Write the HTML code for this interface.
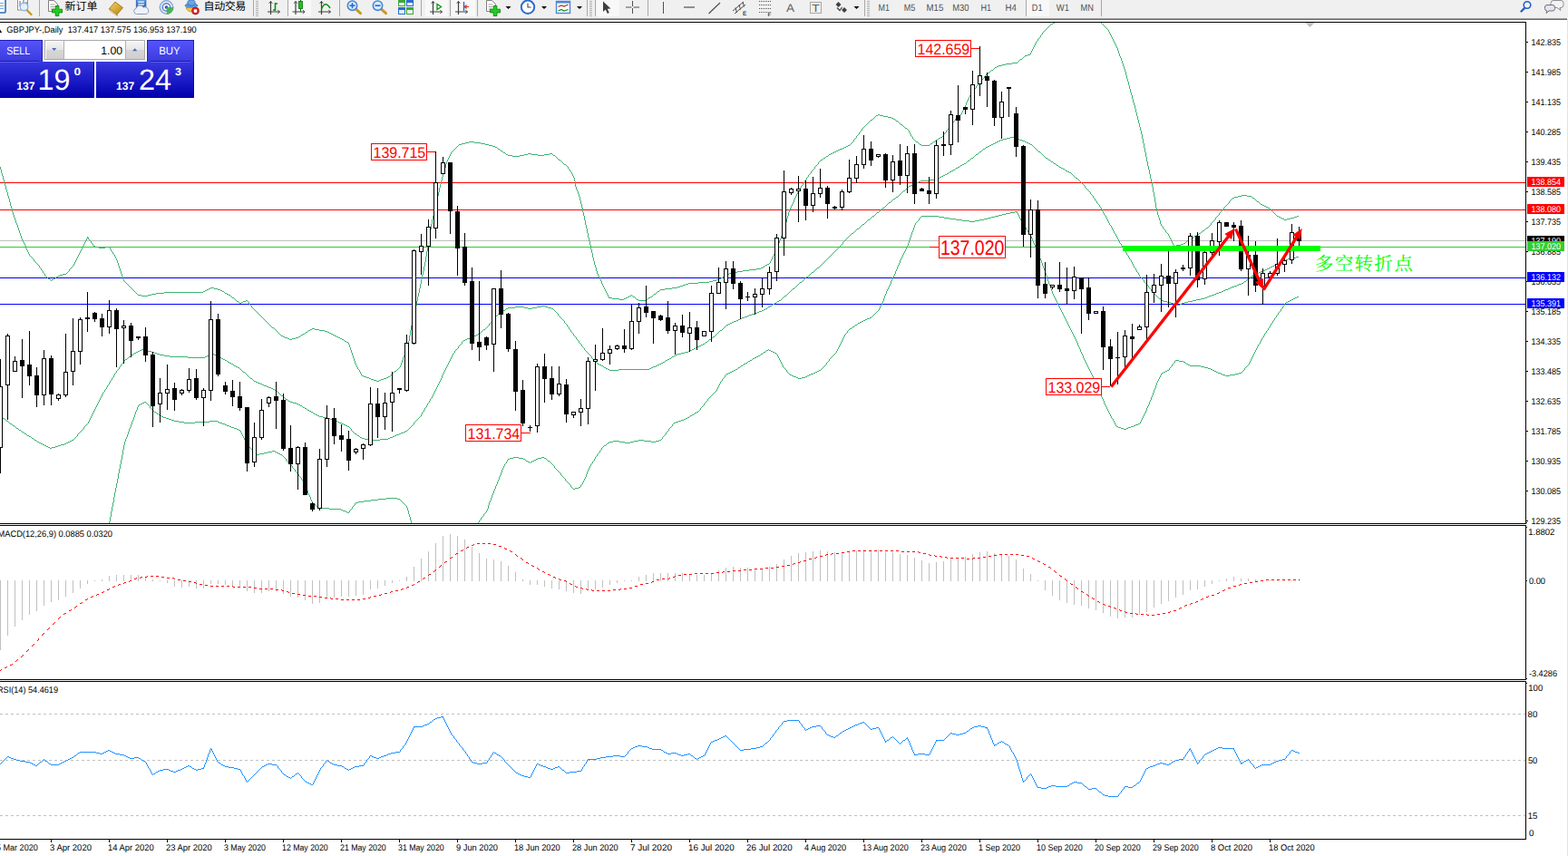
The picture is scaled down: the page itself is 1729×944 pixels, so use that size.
<!DOCTYPE html>
<html><head><meta charset="utf-8"><title>GBPJPY Daily</title>
<style>
html,body{margin:0;padding:0;background:#fff;}
body{width:1729px;height:944px;position:relative;overflow:hidden;font-family:"Liberation Sans", sans-serif;}
#tb{position:absolute;left:0;top:0;width:1729px;height:20px;background:#f0f0f0;}
#tb1{position:absolute;left:0;top:20px;width:1728px;height:1px;background:#a0a0a0;}
#tb2{position:absolute;left:0;top:21px;width:1728px;height:1px;background:#696969;}
#rb{position:absolute;left:1728px;top:21px;width:1px;height:923px;background:#e3e3e3;}
.tf{position:absolute;top:2px;font-size:11px;color:#505050;line-height:13px;}
</style></head><body>
<svg width="1729" height="944" viewBox="0 0 1729 944" style="position:absolute;left:0;top:0;text-rendering:geometricPrecision" font-family='"Liberation Sans", sans-serif'>
<defs>
<clipPath id="cm"><rect x="0" y="25" width="1682" height="552"/></clipPath>
<clipPath id="cd"><rect x="0" y="580" width="1682" height="169"/></clipPath>
<clipPath id="cr"><rect x="0" y="752" width="1682" height="173"/></clipPath>
</defs>
<g shape-rendering="crispEdges" fill="#000">
<rect x="0" y="24" width="1683" height="1"/>
<rect x="1682" y="24" width="1" height="902"/>
<rect x="0" y="577" width="1683" height="1"/>
<rect x="0" y="579" width="1683" height="1"/>
<rect x="0" y="749" width="1683" height="1"/>
<rect x="0" y="751" width="1683" height="1"/>
<rect x="0" y="925" width="1683" height="1"/>
<rect x="1683" y="576" width="1" height="1"/><rect x="1683" y="581" width="1" height="1"/><rect x="1683" y="748" width="1" height="1"/><rect x="1683" y="753" width="1" height="1"/>
<rect x="1682" y="578" width="1" height="1" fill="#fff"/><rect x="1682" y="750" width="1" height="1" fill="#fff"/>
</g>
<g clip-path="url(#cm)">
<g shape-rendering="crispEdges">
<rect x="0" y="201" width="1682" height="1" fill="#ff0000"/>
<rect x="0" y="231" width="1682" height="1" fill="#ff0000"/>
<rect x="0" y="265" width="1682" height="1" fill="#c0c0c0"/>
<rect x="0" y="272" width="1682" height="1" fill="#32cd32"/>
<rect x="0" y="306" width="1682" height="1" fill="#0000ff"/>
<rect x="0" y="335" width="1682" height="1" fill="#0000ff"/>
</g>
<path shape-rendering="crispEdges" fill="#3cb371" d="M0 184h1v3h-1z M1 187h1v4h-1z M2 191h1v3h-1z M3 194h1v4h-1z M4 198h1v4h-1z M5 202h1v3h-1z M6 205h1v4h-1z M7 209h1v3h-1z M8 212h1v4h-1z M9 216h1v3h-1z M10 219h1v4h-1z M11 223h1v4h-1z M12 227h1v3h-1z M13 230h1v4h-1z M14 234h1v3h-1z M15 237h1v3h-1z M16 240h1v3h-1z M17 243h1v3h-1z M18 246h1v2h-1z M19 248h1v3h-1z M20 251h1v3h-1z M21 254h1v3h-1z M22 257h1v3h-1z M23 260h1v3h-1z M24 263h1v2h-1z M25 265h1v2h-1z M26 267h1v2h-1z M27 269h1v2h-1z M28 271h1v3h-1z M29 274h1v2h-1z M30 276h1v2h-1z M31 278h1v2h-1z M32 280h1v2h-1z M37 286h1v2h-1z M43 293h1v2h-1z M45 296h1v2h-1z M47 299h1v2h-1z M49 302h1v2h-1z M76 297h1v2h-1z M81 291h1v2h-1z M82 289h1v2h-1z M83 287h1v2h-1z M84 285h1v2h-1z M85 283h1v2h-1z M86 281h1v2h-1z M87 279h1v2h-1z M88 277h1v2h-1z M89 275h1v2h-1z M90 273h1v2h-1z M91 271h1v2h-1z M92 269h1v2h-1z M93 267h1v2h-1z M94 265h1v2h-1z M95 263h1v2h-1z M96 261h1v2h-1z M97 262h1v2h-1z M100 266h1v2h-1z M102 269h1v2h-1z M121 273h1v2h-1z M122 275h1v2h-1z M124 278h1v2h-1z M126 281h1v2h-1z M127 283h1v2h-1z M128 285h1v2h-1z M129 287h1v3h-1z M130 290h1v3h-1z M131 293h1v3h-1z M132 296h1v3h-1z M133 299h1v3h-1z M134 302h1v3h-1z M135 305h1v3h-1z M136 308h1v2h-1z M274 333h1v2h-1z M277 337h1v2h-1z M384 378h1v2h-1z M385 380h1v3h-1z M386 383h1v3h-1z M387 386h1v3h-1z M388 389h1v3h-1z M389 392h1v3h-1z M390 395h1v3h-1z M391 398h1v3h-1z M392 401h1v2h-1z M393 403h1v2h-1z M394 405h1v2h-1z M396 408h1v2h-1z M397 410h1v2h-1z M398 412h1v2h-1z M441 403h1v2h-1z M442 400h1v3h-1z M443 397h1v3h-1z M444 394h1v3h-1z M445 392h1v2h-1z M446 389h1v3h-1z M447 386h1v3h-1z M448 383h1v3h-1z M449 380h1v3h-1z M450 376h1v4h-1z M451 370h1v6h-1z M452 364h1v6h-1z M453 359h1v5h-1z M454 355h1v4h-1z M455 350h1v5h-1z M456 346h1v4h-1z M457 341h1v5h-1z M458 337h1v4h-1z M459 332h1v5h-1z M460 327h1v5h-1z M461 323h1v4h-1z M462 318h1v5h-1z M463 313h1v5h-1z M464 308h1v5h-1z M465 303h1v5h-1z M466 299h1v4h-1z M467 294h1v5h-1z M468 289h1v5h-1z M469 283h1v6h-1z M470 277h1v6h-1z M471 271h1v6h-1z M472 265h1v6h-1z M473 259h1v6h-1z M474 253h1v6h-1z M475 247h1v6h-1z M476 242h1v5h-1z M477 238h1v4h-1z M478 234h1v4h-1z M479 229h1v5h-1z M480 225h1v4h-1z M481 221h1v4h-1z M482 216h1v5h-1z M483 212h1v4h-1z M484 207h1v5h-1z M485 203h1v4h-1z M486 199h1v4h-1z M487 195h1v4h-1z M488 191h1v4h-1z M489 188h1v3h-1z M490 185h1v3h-1z M491 181h1v4h-1z M492 178h1v3h-1z M493 176h1v2h-1z M494 174h1v2h-1z M495 172h1v2h-1z M496 170h1v2h-1z M497 168h1v2h-1z M626 184h1v2h-1z M628 187h1v2h-1z M630 190h1v2h-1z M631 192h1v2h-1z M632 194h1v2h-1z M633 196h1v4h-1z M634 200h1v6h-1z M635 206h1v3h-1z M636 209h1v2h-1z M637 211h1v3h-1z M638 214h1v3h-1z M639 217h1v4h-1z M640 221h1v4h-1z M641 225h1v4h-1z M642 229h1v5h-1z M643 234h1v4h-1z M644 238h1v5h-1z M645 243h1v5h-1z M646 248h1v4h-1z M647 252h1v5h-1z M648 257h1v5h-1z M649 262h1v4h-1z M650 266h1v4h-1z M651 270h1v5h-1z M652 275h1v4h-1z M653 279h1v5h-1z M654 284h1v4h-1z M655 288h1v4h-1z M656 292h1v3h-1z M657 295h1v4h-1z M658 299h1v3h-1z M659 302h1v2h-1z M660 304h1v2h-1z M661 306h1v2h-1z M662 308h1v2h-1z M663 310h1v3h-1z M664 313h1v2h-1z M665 315h1v2h-1z M666 317h1v2h-1z M667 319h1v2h-1z M668 321h1v2h-1z M669 323h1v2h-1z M670 325h1v2h-1z M671 327h1v2h-1z M849 288h1v2h-1z M850 286h1v2h-1z M851 284h1v2h-1z M852 282h1v2h-1z M853 280h1v2h-1z M854 278h1v2h-1z M855 275h1v3h-1z M856 273h1v2h-1z M857 270h1v3h-1z M858 268h1v2h-1z M859 265h1v3h-1z M860 263h1v2h-1z M861 260h1v3h-1z M862 258h1v2h-1z M863 255h1v3h-1z M864 251h1v4h-1z M865 248h1v3h-1z M866 245h1v3h-1z M867 241h1v4h-1z M868 238h1v3h-1z M869 234h1v4h-1z M870 231h1v3h-1z M871 229h1v2h-1z M872 227h1v2h-1z M873 225h1v2h-1z M874 223h1v2h-1z M875 220h1v3h-1z M876 218h1v2h-1z M877 216h1v2h-1z M878 214h1v2h-1z M879 212h1v2h-1z M880 210h1v2h-1z M881 208h1v2h-1z M883 205h1v2h-1z M885 202h1v2h-1z M887 199h1v2h-1z M889 196h1v2h-1z M891 193h1v2h-1z M894 189h1v2h-1z M898 184h1v2h-1z M902 179h1v2h-1z M941 154h1v2h-1z M944 150h1v2h-1z M947 146h1v2h-1z M950 142h1v2h-1z M1002 144h1v2h-1z M1003 146h1v2h-1z M1004 148h1v2h-1z M1006 151h1v2h-1z M1040 148h1v2h-1z M1043 144h1v2h-1z M1046 140h1v2h-1z M1049 136h1v2h-1z M1053 131h1v2h-1z M1060 124h1v2h-1z M1061 122h1v2h-1z M1062 120h1v2h-1z M1063 118h1v2h-1z M1064 116h1v2h-1z M1065 113h1v3h-1z M1066 111h1v2h-1z M1067 109h1v2h-1z M1068 107h1v2h-1z M1069 105h1v2h-1z M1070 103h1v2h-1z M1072 100h1v2h-1z M1076 95h1v2h-1z M1081 89h1v2h-1z M1085 84h1v2h-1z M1136 58h1v2h-1z M1137 56h1v2h-1z M1138 54h1v2h-1z M1139 52h1v2h-1z M1140 50h1v2h-1z M1141 48h1v2h-1z M1142 46h1v2h-1z M1144 43h1v2h-1z M1147 39h1v2h-1z M1149 36h1v2h-1z M1222 33h1v2h-1z M1223 35h1v2h-1z M1224 37h1v2h-1z M1225 39h1v2h-1z M1226 41h1v2h-1z M1227 43h1v2h-1z M1228 45h1v2h-1z M1229 47h1v2h-1z M1230 49h1v2h-1z M1231 51h1v2h-1z M1232 53h1v3h-1z M1233 56h1v3h-1z M1234 59h1v3h-1z M1235 62h1v2h-1z M1236 64h1v3h-1z M1237 67h1v3h-1z M1238 70h1v3h-1z M1239 73h1v3h-1z M1240 76h1v3h-1z M1241 79h1v4h-1z M1242 83h1v4h-1z M1243 87h1v3h-1z M1244 90h1v4h-1z M1245 94h1v4h-1z M1246 98h1v4h-1z M1247 102h1v3h-1z M1248 105h1v4h-1z M1249 109h1v4h-1z M1250 113h1v3h-1z M1251 116h1v4h-1z M1252 120h1v4h-1z M1253 124h1v4h-1z M1254 128h1v4h-1z M1255 132h1v4h-1z M1256 136h1v4h-1z M1257 140h1v4h-1z M1258 144h1v4h-1z M1259 148h1v5h-1z M1260 153h1v5h-1z M1261 158h1v5h-1z M1262 163h1v5h-1z M1263 168h1v5h-1z M1264 173h1v5h-1z M1265 178h1v5h-1z M1266 183h1v4h-1z M1267 187h1v5h-1z M1268 192h1v5h-1z M1269 197h1v4h-1z M1270 201h1v5h-1z M1271 206h1v6h-1z M1272 212h1v5h-1z M1273 217h1v6h-1z M1274 223h1v6h-1z M1275 229h1v4h-1z M1276 233h1v4h-1z M1277 237h1v3h-1z M1278 240h1v3h-1z M1279 243h1v4h-1z M1280 247h1v2h-1z M1282 250h1v2h-1z M1285 254h1v2h-1z M1288 258h1v2h-1z M1289 260h1v2h-1z M1290 262h1v2h-1z M1291 264h1v2h-1z M1292 266h1v2h-1z M1293 268h1v2h-1z M1294 270h1v2h-1z M1335 246h1v2h-1z M1340 240h1v2h-1z M1344 235h1v2h-1z M1349 229h1v2h-1z M1355 222h1v2h-1z M1161 25h2v1h-2z M1214 25h1v1h-1z M1159 26h2v1h-2z M1215 26h1v1h-1z M1158 27h1v1h-1z M1216 27h1v1h-1z M1157 28h1v1h-1z M1217 28h1v1h-1z M1156 29h1v1h-1z M1218 29h1v1h-1z M1155 30h1v1h-1z M1219 30h1v1h-1z M1154 31h1v1h-1z M1220 31h1v1h-1z M1153 32h1v1h-1z M1221 32h1v1h-1z M1152 33h1v1h-1z M1151 34h1v1h-1z M1150 35h1v1h-1z M1148 38h1v1h-1z M1146 41h1v1h-1z M1145 42h1v1h-1z M1143 45h1v1h-1z M1133 60h3v1h-3z M1130 61h3v1h-3z M1129 62h1v1h-1z M1128 63h1v1h-1z M1127 64h1v1h-1z M1125 65h2v1h-2z M1124 66h1v1h-1z M1123 67h1v1h-1z M1122 68h1v1h-1z M1116 69h6v1h-6z M1109 70h7v1h-7z M1105 71h4v1h-4z M1101 72h4v1h-4z M1099 73h2v1h-2z M1097 74h2v1h-2z M1096 75h1v1h-1z M1095 76h1v1h-1z M1093 77h2v1h-2z M1092 78h1v1h-1z M1091 79h1v1h-1z M1089 80h2v1h-2z M1088 81h1v1h-1z M1087 82h1v1h-1z M1086 83h1v1h-1z M1084 86h1v1h-1z M1083 87h1v1h-1z M1082 88h1v1h-1z M1080 91h1v1h-1z M1079 92h1v1h-1z M1078 93h1v1h-1z M1077 94h1v1h-1z M1075 97h1v1h-1z M1074 98h1v1h-1z M1073 99h1v1h-1z M1071 102h1v1h-1z M968 126h2v1h-2z M1059 126h1v1h-1z M966 127h2v1h-2z M970 127h4v1h-4z M1057 127h2v1h-2z M965 128h1v1h-1z M974 128h5v1h-5z M1056 128h1v1h-1z M964 129h1v1h-1z M979 129h4v1h-4z M1055 129h1v1h-1z M963 130h1v1h-1z M983 130h2v1h-2z M1054 130h1v1h-1z M962 131h1v1h-1z M985 131h2v1h-2z M960 132h2v1h-2z M987 132h1v1h-1z M959 133h1v1h-1z M988 133h2v1h-2z M1052 133h1v1h-1z M958 134h1v1h-1z M990 134h1v1h-1z M1051 134h1v1h-1z M957 135h1v1h-1z M991 135h1v1h-1z M1050 135h1v1h-1z M956 136h1v1h-1z M992 136h1v1h-1z M955 137h1v1h-1z M993 137h2v1h-2z M954 138h1v1h-1z M995 138h1v1h-1z M1048 138h1v1h-1z M953 139h1v1h-1z M996 139h1v1h-1z M1047 139h1v1h-1z M952 140h1v1h-1z M997 140h1v1h-1z M951 141h1v1h-1z M998 141h2v1h-2z M1000 142h1v1h-1z M1045 142h1v1h-1z M1001 143h1v1h-1z M1044 143h1v1h-1z M949 144h1v1h-1z M948 145h1v1h-1z M1042 146h1v1h-1z M1041 147h1v1h-1z M946 148h1v1h-1z M945 149h1v1h-1z M1005 150h1v1h-1z M1039 150h1v1h-1z M1037 151h2v1h-2z M943 152h1v1h-1z M1035 152h2v1h-2z M942 153h1v1h-1z M1007 153h1v1h-1z M1034 153h1v1h-1z M1008 154h1v1h-1z M1032 154h2v1h-2z M1009 155h1v1h-1z M1031 155h1v1h-1z M517 156h6v1h-6z M940 156h1v1h-1z M1010 156h2v1h-2z M1029 156h2v1h-2z M513 157h4v1h-4z M523 157h7v1h-7z M939 157h1v1h-1z M1012 157h1v1h-1z M1028 157h1v1h-1z M509 158h4v1h-4z M530 158h5v1h-5z M938 158h1v1h-1z M1013 158h1v1h-1z M1026 158h2v1h-2z M506 159h3v1h-3z M535 159h4v1h-4z M937 159h1v1h-1z M1014 159h2v1h-2z M1025 159h1v1h-1z M505 160h1v1h-1z M539 160h4v1h-4z M935 160h2v1h-2z M1016 160h9v1h-9z M504 161h1v1h-1z M543 161h3v1h-3z M933 161h2v1h-2z M503 162h1v1h-1z M546 162h2v1h-2z M931 162h2v1h-2z M502 163h1v1h-1z M548 163h1v1h-1z M929 163h2v1h-2z M501 164h1v1h-1z M549 164h2v1h-2z M926 164h3v1h-3z M500 165h1v1h-1z M551 165h1v1h-1z M924 165h2v1h-2z M499 166h1v1h-1z M552 166h2v1h-2z M922 166h2v1h-2z M498 167h1v1h-1z M554 167h1v1h-1z M920 167h2v1h-2z M555 168h2v1h-2z M918 168h2v1h-2z M557 169h1v1h-1z M582 169h4v1h-4z M606 169h3v1h-3z M916 169h2v1h-2z M558 170h2v1h-2z M578 170h4v1h-4z M586 170h7v1h-7z M600 170h6v1h-6z M609 170h1v1h-1z M914 170h2v1h-2z M560 171h5v1h-5z M573 171h5v1h-5z M593 171h7v1h-7z M610 171h2v1h-2z M913 171h1v1h-1z M565 172h8v1h-8z M612 172h1v1h-1z M911 172h2v1h-2z M613 173h1v1h-1z M910 173h1v1h-1z M614 174h1v1h-1z M908 174h2v1h-2z M615 175h1v1h-1z M907 175h1v1h-1z M616 176h2v1h-2z M905 176h2v1h-2z M618 177h1v1h-1z M904 177h1v1h-1z M619 178h1v1h-1z M903 178h1v1h-1z M620 179h1v1h-1z M621 180h1v1h-1z M622 181h2v1h-2z M901 181h1v1h-1z M624 182h1v1h-1z M900 182h1v1h-1z M625 183h1v1h-1z M899 183h1v1h-1z M627 186h1v1h-1z M897 186h1v1h-1z M896 187h1v1h-1z M895 188h1v1h-1z M629 189h1v1h-1z M893 191h1v1h-1z M892 192h1v1h-1z M890 195h1v1h-1z M888 198h1v1h-1z M886 201h1v1h-1z M884 204h1v1h-1z M882 207h1v1h-1z M1369 215h6v1h-6z M1365 216h4v1h-4z M1375 216h5v1h-5z M1361 217h4v1h-4z M1380 217h1v1h-1z M1359 218h2v1h-2z M1381 218h2v1h-2z M1358 219h1v1h-1z M1383 219h1v1h-1z M1357 220h1v1h-1z M1384 220h1v1h-1z M1356 221h1v1h-1z M1385 221h1v1h-1z M1386 222h2v1h-2z M1388 223h1v1h-1z M1354 224h1v1h-1z M1389 224h1v1h-1z M1353 225h1v1h-1z M1390 225h2v1h-2z M1352 226h1v1h-1z M1392 226h2v1h-2z M1351 227h1v1h-1z M1394 227h2v1h-2z M1350 228h1v1h-1z M1396 228h2v1h-2z M1398 229h2v1h-2z M1400 230h1v1h-1z M1348 231h1v1h-1z M1401 231h1v1h-1z M1347 232h1v1h-1z M1402 232h1v1h-1z M1346 233h1v1h-1z M1403 233h1v1h-1z M1345 234h1v1h-1z M1404 234h1v1h-1z M1405 235h1v1h-1z M1406 236h1v1h-1z M1343 237h1v1h-1z M1407 237h1v1h-1z M1342 238h1v1h-1z M1408 238h2v1h-2z M1430 238h2v1h-2z M1341 239h1v1h-1z M1410 239h2v1h-2z M1427 239h3v1h-3z M1412 240h2v1h-2z M1423 240h4v1h-4z M1414 241h2v1h-2z M1419 241h4v1h-4z M1339 242h1v1h-1z M1416 242h3v1h-3z M1338 243h1v1h-1z M1337 244h1v1h-1z M1336 245h1v1h-1z M1334 248h1v1h-1z M1281 249h1v1h-1z M1333 249h1v1h-1z M1332 250h1v1h-1z M1330 251h2v1h-2z M1283 252h1v1h-1z M1329 252h1v1h-1z M1284 253h1v1h-1z M1328 253h1v1h-1z M1326 254h2v1h-2z M1325 255h1v1h-1z M1286 256h1v1h-1z M1324 256h1v1h-1z M1287 257h1v1h-1z M1322 257h2v1h-2z M1321 258h1v1h-1z M1319 259h2v1h-2z M1317 260h2v1h-2z M1316 261h1v1h-1z M1314 262h2v1h-2z M1312 263h2v1h-2z M98 264h1v1h-1z M1311 264h1v1h-1z M99 265h1v1h-1z M1309 265h2v1h-2z M1308 266h1v1h-1z M1307 267h1v1h-1z M101 268h1v1h-1z M1305 268h2v1h-2z M1302 269h3v1h-3z M1297 270h5v1h-5z M103 271h2v1h-2z M1295 271h2v1h-2z M105 272h4v1h-4z M116 272h5v1h-5z M109 273h7v1h-7z M123 277h1v1h-1z M125 280h1v1h-1z M33 282h1v1h-1z M34 283h1v1h-1z M35 284h1v1h-1z M36 285h1v1h-1z M38 288h1v1h-1z M39 289h1v1h-1z M40 290h1v1h-1z M848 290h1v1h-1z M41 291h1v1h-1z M846 291h2v1h-2z M42 292h1v1h-1z M844 292h2v1h-2z M80 293h1v1h-1z M843 293h1v1h-1z M79 294h1v1h-1z M841 294h2v1h-2z M44 295h1v1h-1z M78 295h1v1h-1z M839 295h2v1h-2z M77 296h1v1h-1z M834 296h5v1h-5z M826 297h8v1h-8z M46 298h1v1h-1z M819 298h7v1h-7z M75 299h1v1h-1z M813 299h6v1h-6z M74 300h1v1h-1z M807 300h6v1h-6z M48 301h1v1h-1z M73 301h1v1h-1z M804 301h3v1h-3z M69 302h4v1h-4z M802 302h2v1h-2z M66 303h3v1h-3z M800 303h2v1h-2z M50 304h1v1h-1z M64 304h2v1h-2z M798 304h2v1h-2z M51 305h1v1h-1z M62 305h2v1h-2z M797 305h1v1h-1z M52 306h1v1h-1z M61 306h1v1h-1z M795 306h2v1h-2z M53 307h2v1h-2z M59 307h2v1h-2z M793 307h2v1h-2z M55 308h1v1h-1z M57 308h2v1h-2z M790 308h3v1h-3z M56 309h1v1h-1z M786 309h4v1h-4z M137 310h1v1h-1z M782 310h4v1h-4z M138 311h1v1h-1z M770 311h12v1h-12z M139 312h1v1h-1z M759 312h11v1h-11z M140 313h1v1h-1z M756 313h3v1h-3z M141 314h1v1h-1z M753 314h3v1h-3z M142 315h1v1h-1z M750 315h3v1h-3z M143 316h1v1h-1z M747 316h3v1h-3z M144 317h1v1h-1z M232 317h4v1h-4z M741 317h6v1h-6z M145 318h1v1h-1z M230 318h2v1h-2z M236 318h4v1h-4z M733 318h8v1h-8z M146 319h1v1h-1z M228 319h2v1h-2z M240 319h3v1h-3z M728 319h5v1h-5z M147 320h1v1h-1z M226 320h2v1h-2z M243 320h2v1h-2z M727 320h1v1h-1z M148 321h1v1h-1z M224 321h2v1h-2z M245 321h2v1h-2z M725 321h2v1h-2z M149 322h1v1h-1z M181 322h43v1h-43z M247 322h1v1h-1z M724 322h1v1h-1z M150 323h1v1h-1z M172 323h9v1h-9z M248 323h2v1h-2z M723 323h1v1h-1z M151 324h1v1h-1z M167 324h5v1h-5z M250 324h2v1h-2z M721 324h2v1h-2z M152 325h4v1h-4z M163 325h4v1h-4z M252 325h2v1h-2z M696 325h1v1h-1z M720 325h1v1h-1z M156 326h7v1h-7z M254 326h1v1h-1z M694 326h2v1h-2z M697 326h1v1h-1z M719 326h1v1h-1z M255 327h1v1h-1z M692 327h2v1h-2z M698 327h2v1h-2z M717 327h2v1h-2z M256 328h2v1h-2z M672 328h3v1h-3z M690 328h2v1h-2z M700 328h1v1h-1z M715 328h2v1h-2z M258 329h1v1h-1z M675 329h8v1h-8z M688 329h2v1h-2z M701 329h1v1h-1z M714 329h1v1h-1z M259 330h1v1h-1z M683 330h5v1h-5z M702 330h2v1h-2z M712 330h2v1h-2z M260 331h1v1h-1z M271 331h2v1h-2z M704 331h8v1h-8z M261 332h2v1h-2z M268 332h3v1h-3z M273 332h1v1h-1z M263 333h1v1h-1z M266 333h2v1h-2z M264 334h2v1h-2z M275 335h1v1h-1z M276 336h1v1h-1z M278 339h1v1h-1z M279 340h1v1h-1z M280 341h1v1h-1z M281 342h1v1h-1z M282 343h1v1h-1z M283 344h1v1h-1z M284 345h1v1h-1z M285 346h1v1h-1z M286 347h1v1h-1z M287 348h1v1h-1z M288 349h1v1h-1z M289 350h1v1h-1z M290 351h1v1h-1z M291 352h1v1h-1z M292 353h1v1h-1z M293 354h1v1h-1z M294 355h1v1h-1z M295 356h1v1h-1z M296 357h1v1h-1z M297 358h1v1h-1z M298 359h1v1h-1z M299 360h1v1h-1z M300 361h2v1h-2z M302 362h1v1h-1z M344 362h3v1h-3z M303 363h1v1h-1z M342 363h2v1h-2z M347 363h5v1h-5z M304 364h1v1h-1z M340 364h2v1h-2z M352 364h6v1h-6z M305 365h1v1h-1z M339 365h1v1h-1z M358 365h3v1h-3z M306 366h1v1h-1z M337 366h2v1h-2z M361 366h2v1h-2z M307 367h1v1h-1z M336 367h1v1h-1z M363 367h2v1h-2z M308 368h1v1h-1z M334 368h2v1h-2z M365 368h2v1h-2z M309 369h1v1h-1z M332 369h2v1h-2z M367 369h2v1h-2z M310 370h2v1h-2z M331 370h1v1h-1z M369 370h2v1h-2z M312 371h2v1h-2z M329 371h2v1h-2z M371 371h2v1h-2z M314 372h3v1h-3z M326 372h3v1h-3z M373 372h2v1h-2z M317 373h2v1h-2z M322 373h4v1h-4z M375 373h2v1h-2z M319 374h3v1h-3z M377 374h2v1h-2z M379 375h1v1h-1z M380 376h2v1h-2z M382 377h2v1h-2z M440 405h1v1h-1z M439 406h1v1h-1z M395 407h1v1h-1z M438 407h1v1h-1z M437 408h1v1h-1z M435 409h2v1h-2z M434 410h1v1h-1z M433 411h1v1h-1z M432 412h1v1h-1z M431 413h1v1h-1z M399 414h2v1h-2z M430 414h1v1h-1z M401 415h3v1h-3z M428 415h2v1h-2z M404 416h3v1h-3z M426 416h2v1h-2z M407 417h2v1h-2z M423 417h3v1h-3z M409 418h3v1h-3z M420 418h3v1h-3z M412 419h3v1h-3z M418 419h2v1h-2z M415 420h3v1h-3z"/>
<path shape-rendering="crispEdges" fill="#3cb371" d="M85 479h1v2h-1z M92 471h1v2h-1z M97 465h1v2h-1z M98 463h1v2h-1z M99 461h1v2h-1z M100 459h1v2h-1z M101 457h1v2h-1z M102 455h1v2h-1z M103 453h1v2h-1z M104 451h1v2h-1z M105 449h1v2h-1z M106 447h1v2h-1z M107 445h1v2h-1z M108 443h1v2h-1z M109 441h1v2h-1z M110 439h1v2h-1z M111 437h1v2h-1z M112 435h1v2h-1z M113 433h1v2h-1z M115 430h1v2h-1z M117 427h1v2h-1z M118 425h1v2h-1z M120 422h1v2h-1z M121 420h1v2h-1z M123 417h1v2h-1z M125 414h1v2h-1z M126 412h1v2h-1z M128 409h1v2h-1z M131 405h1v2h-1z M133 402h1v2h-1z M136 398h1v2h-1z M387 473h1v2h-1z M456 466h1v2h-1z M464 457h1v2h-1z M465 455h1v2h-1z M467 452h1v2h-1z M468 450h1v2h-1z M470 447h1v2h-1z M471 445h1v2h-1z M473 442h1v2h-1z M474 440h1v2h-1z M476 437h1v2h-1z M477 435h1v2h-1z M478 433h1v2h-1z M479 431h1v2h-1z M480 429h1v2h-1z M481 427h1v2h-1z M482 425h1v2h-1z M483 423h1v2h-1z M484 421h1v2h-1z M485 419h1v2h-1z M486 417h1v2h-1z M487 414h1v3h-1z M488 412h1v2h-1z M489 410h1v2h-1z M490 408h1v2h-1z M491 406h1v2h-1z M492 404h1v2h-1z M493 402h1v2h-1z M494 400h1v2h-1z M495 398h1v2h-1z M496 396h1v2h-1z M497 394h1v2h-1z M498 392h1v2h-1z M499 390h1v2h-1z M501 387h1v2h-1z M505 382h1v2h-1z M509 377h1v2h-1z M539 357h1v2h-1z M545 350h1v2h-1z M615 346h1v2h-1z M622 354h1v2h-1z M625 358h1v2h-1z M627 361h1v2h-1z M629 364h1v2h-1z M632 368h1v2h-1z M635 372h1v2h-1z M638 376h1v2h-1z M641 380h1v2h-1z M644 384h1v2h-1z M652 393h1v2h-1z M929 267h1v2h-1z M1196 205h1v2h-1z M1202 212h1v2h-1z M1205 216h1v2h-1z M1207 219h1v2h-1z M1209 222h1v2h-1z M1212 226h1v2h-1z M1214 229h1v2h-1z M1215 231h1v2h-1z M1216 233h1v2h-1z M1217 235h1v2h-1z M1219 238h1v2h-1z M1220 240h1v2h-1z M1221 242h1v2h-1z M1222 244h1v2h-1z M1223 246h1v2h-1z M1225 249h1v2h-1z M1226 251h1v2h-1z M1227 253h1v2h-1z M1228 255h1v2h-1z M1230 258h1v2h-1z M1231 260h1v2h-1z M1232 262h1v2h-1z M1233 264h1v2h-1z M1234 266h1v2h-1z M1236 269h1v2h-1z M1237 271h1v2h-1z M1239 274h1v2h-1z M1241 277h1v2h-1z M1242 279h1v2h-1z M1244 282h1v2h-1z M1245 284h1v2h-1z M1247 287h1v2h-1z M1248 289h1v2h-1z M1249 291h1v2h-1z M1250 293h1v2h-1z M1252 296h1v2h-1z M1253 298h1v2h-1z M1255 301h1v2h-1z M1256 303h1v2h-1z M1261 309h1v2h-1z M1266 315h1v2h-1z M1269 319h1v2h-1z M1114 151h4v1h-4z M1110 152h4v1h-4z M1118 152h3v1h-3z M1106 153h4v1h-4z M1121 153h3v1h-3z M1103 154h3v1h-3z M1124 154h3v1h-3z M1101 155h2v1h-2z M1127 155h3v1h-3z M1099 156h2v1h-2z M1130 156h2v1h-2z M1097 157h2v1h-2z M1132 157h2v1h-2z M1095 158h2v1h-2z M1134 158h2v1h-2z M1093 159h2v1h-2z M1136 159h2v1h-2z M1091 160h2v1h-2z M1138 160h1v1h-1z M1089 161h2v1h-2z M1139 161h1v1h-1z M1087 162h2v1h-2z M1140 162h1v1h-1z M1086 163h1v1h-1z M1141 163h1v1h-1z M1084 164h2v1h-2z M1142 164h1v1h-1z M1083 165h1v1h-1z M1143 165h1v1h-1z M1082 166h1v1h-1z M1144 166h1v1h-1z M1080 167h2v1h-2z M1145 167h2v1h-2z M1079 168h1v1h-1z M1147 168h1v1h-1z M1078 169h1v1h-1z M1148 169h1v1h-1z M1076 170h2v1h-2z M1149 170h1v1h-1z M1075 171h1v1h-1z M1150 171h1v1h-1z M1074 172h1v1h-1z M1151 172h1v1h-1z M1073 173h1v1h-1z M1152 173h1v1h-1z M1071 174h2v1h-2z M1153 174h2v1h-2z M1070 175h1v1h-1z M1155 175h1v1h-1z M1069 176h1v1h-1z M1156 176h2v1h-2z M1067 177h2v1h-2z M1158 177h1v1h-1z M1066 178h1v1h-1z M1159 178h2v1h-2z M1065 179h1v1h-1z M1161 179h1v1h-1z M1063 180h2v1h-2z M1162 180h2v1h-2z M1061 181h2v1h-2z M1164 181h1v1h-1z M1059 182h2v1h-2z M1165 182h2v1h-2z M1058 183h1v1h-1z M1167 183h1v1h-1z M1056 184h2v1h-2z M1168 184h2v1h-2z M1054 185h2v1h-2z M1170 185h2v1h-2z M1053 186h1v1h-1z M1172 186h2v1h-2z M1051 187h2v1h-2z M1174 187h1v1h-1z M1049 188h2v1h-2z M1175 188h2v1h-2z M1047 189h2v1h-2z M1177 189h2v1h-2z M1046 190h1v1h-1z M1179 190h2v1h-2z M1044 191h2v1h-2z M1181 191h1v1h-1z M1042 192h2v1h-2z M1182 192h1v1h-1z M1040 193h2v1h-2z M1183 193h1v1h-1z M1038 194h2v1h-2z M1184 194h1v1h-1z M1036 195h2v1h-2z M1185 195h1v1h-1z M1034 196h2v1h-2z M1186 196h2v1h-2z M1032 197h2v1h-2z M1188 197h1v1h-1z M1024 198h8v1h-8z M1189 198h1v1h-1z M1015 199h9v1h-9z M1190 199h1v1h-1z M1013 200h2v1h-2z M1191 200h1v1h-1z M1011 201h2v1h-2z M1192 201h1v1h-1z M1008 202h3v1h-3z M1193 202h1v1h-1z M1006 203h2v1h-2z M1194 203h1v1h-1z M1004 204h2v1h-2z M1195 204h1v1h-1z M1002 205h2v1h-2z M1001 206h1v1h-1z M1000 207h1v1h-1z M1197 207h1v1h-1z M999 208h1v1h-1z M1198 208h1v1h-1z M998 209h1v1h-1z M1199 209h1v1h-1z M996 210h2v1h-2z M1200 210h1v1h-1z M995 211h1v1h-1z M1201 211h1v1h-1z M994 212h1v1h-1z M993 213h1v1h-1z M992 214h1v1h-1z M1203 214h1v1h-1z M991 215h1v1h-1z M1204 215h1v1h-1z M990 216h1v1h-1z M988 217h2v1h-2z M987 218h1v1h-1z M1206 218h1v1h-1z M985 219h2v1h-2z M984 220h1v1h-1z M983 221h1v1h-1z M1208 221h1v1h-1z M982 222h1v1h-1z M980 223h2v1h-2z M979 224h1v1h-1z M1210 224h1v1h-1z M978 225h1v1h-1z M1211 225h1v1h-1z M977 226h1v1h-1z M976 227h1v1h-1z M975 228h1v1h-1z M1213 228h1v1h-1z M973 229h2v1h-2z M972 230h1v1h-1z M971 231h1v1h-1z M970 232h1v1h-1z M969 233h1v1h-1z M967 234h2v1h-2z M966 235h1v1h-1z M965 236h1v1h-1z M964 237h1v1h-1z M1218 237h1v1h-1z M962 238h2v1h-2z M961 239h1v1h-1z M960 240h1v1h-1z M959 241h1v1h-1z M957 242h2v1h-2z M956 243h1v1h-1z M955 244h1v1h-1z M954 245h1v1h-1z M953 246h1v1h-1z M951 247h2v1h-2z M950 248h1v1h-1z M1224 248h1v1h-1z M949 249h1v1h-1z M948 250h1v1h-1z M947 251h1v1h-1z M945 252h2v1h-2z M944 253h1v1h-1z M943 254h1v1h-1z M942 255h1v1h-1z M941 256h1v1h-1z M939 257h2v1h-2z M1229 257h1v1h-1z M938 258h1v1h-1z M937 259h1v1h-1z M936 260h1v1h-1z M935 261h1v1h-1z M934 262h1v1h-1z M933 263h1v1h-1z M932 264h1v1h-1z M931 265h1v1h-1z M930 266h1v1h-1z M1235 268h1v1h-1z M928 269h1v1h-1z M927 270h1v1h-1z M926 271h1v1h-1z M925 272h1v1h-1z M924 273h1v1h-1z M1238 273h1v1h-1z M923 274h1v1h-1z M922 275h1v1h-1z M921 276h1v1h-1z M1240 276h1v1h-1z M920 277h1v1h-1z M919 278h1v1h-1z M918 279h1v1h-1z M917 280h1v1h-1z M916 281h1v1h-1z M1243 281h1v1h-1z M915 282h1v1h-1z M914 283h1v1h-1z M1429 283h3v1h-3z M913 284h1v1h-1z M1424 284h5v1h-5z M912 285h1v1h-1z M1420 285h4v1h-4z M911 286h1v1h-1z M1246 286h1v1h-1z M1418 286h2v1h-2z M910 287h1v1h-1z M1416 287h2v1h-2z M909 288h1v1h-1z M1414 288h2v1h-2z M908 289h1v1h-1z M1412 289h2v1h-2z M907 290h1v1h-1z M1410 290h2v1h-2z M906 291h1v1h-1z M1407 291h3v1h-3z M905 292h1v1h-1z M1405 292h2v1h-2z M904 293h1v1h-1z M1403 293h2v1h-2z M903 294h1v1h-1z M1401 294h2v1h-2z M901 295h2v1h-2z M1251 295h1v1h-1z M1399 295h2v1h-2z M900 296h1v1h-1z M1397 296h2v1h-2z M899 297h1v1h-1z M1395 297h2v1h-2z M898 298h1v1h-1z M1393 298h2v1h-2z M897 299h1v1h-1z M1390 299h3v1h-3z M895 300h2v1h-2z M1254 300h1v1h-1z M1388 300h2v1h-2z M894 301h1v1h-1z M1386 301h2v1h-2z M893 302h1v1h-1z M1384 302h2v1h-2z M892 303h1v1h-1z M1382 303h2v1h-2z M891 304h1v1h-1z M1380 304h2v1h-2z M889 305h2v1h-2z M1257 305h1v1h-1z M1379 305h1v1h-1z M888 306h1v1h-1z M1258 306h1v1h-1z M1378 306h1v1h-1z M887 307h1v1h-1z M1259 307h1v1h-1z M1376 307h2v1h-2z M886 308h1v1h-1z M1260 308h1v1h-1z M1375 308h1v1h-1z M885 309h1v1h-1z M1374 309h1v1h-1z M884 310h1v1h-1z M1372 310h2v1h-2z M882 311h2v1h-2z M1262 311h1v1h-1z M1371 311h1v1h-1z M881 312h1v1h-1z M1263 312h1v1h-1z M1369 312h2v1h-2z M880 313h1v1h-1z M1264 313h1v1h-1z M1366 313h3v1h-3z M879 314h1v1h-1z M1265 314h1v1h-1z M1364 314h2v1h-2z M878 315h1v1h-1z M1361 315h3v1h-3z M877 316h1v1h-1z M1358 316h3v1h-3z M876 317h1v1h-1z M1267 317h1v1h-1z M1356 317h2v1h-2z M874 318h2v1h-2z M1268 318h1v1h-1z M1354 318h2v1h-2z M873 319h1v1h-1z M1351 319h3v1h-3z M872 320h1v1h-1z M1349 320h2v1h-2z M871 321h1v1h-1z M1270 321h1v1h-1z M1347 321h2v1h-2z M870 322h1v1h-1z M1271 322h1v1h-1z M1344 322h3v1h-3z M869 323h1v1h-1z M1272 323h1v1h-1z M1341 323h3v1h-3z M868 324h1v1h-1z M1273 324h1v1h-1z M1339 324h2v1h-2z M867 325h1v1h-1z M1274 325h1v1h-1z M1336 325h3v1h-3z M865 326h2v1h-2z M1275 326h1v1h-1z M1333 326h3v1h-3z M864 327h1v1h-1z M1276 327h1v1h-1z M1331 327h2v1h-2z M863 328h1v1h-1z M1277 328h1v1h-1z M1328 328h3v1h-3z M862 329h1v1h-1z M1278 329h2v1h-2z M1324 329h4v1h-4z M861 330h1v1h-1z M1280 330h1v1h-1z M1319 330h5v1h-5z M859 331h2v1h-2z M1281 331h2v1h-2z M1315 331h4v1h-4z M857 332h2v1h-2z M1283 332h4v1h-4z M1310 332h5v1h-5z M856 333h1v1h-1z M1287 333h4v1h-4z M1306 333h4v1h-4z M854 334h2v1h-2z M1291 334h3v1h-3z M1303 334h3v1h-3z M852 335h2v1h-2z M1294 335h4v1h-4z M1301 335h2v1h-2z M851 336h1v1h-1z M1298 336h3v1h-3z M597 337h4v1h-4z M849 337h2v1h-2z M568 338h10v1h-10z M592 338h5v1h-5z M601 338h3v1h-3z M847 338h2v1h-2z M560 339h8v1h-8z M578 339h4v1h-4z M587 339h5v1h-5z M604 339h4v1h-4z M846 339h1v1h-1z M558 340h2v1h-2z M582 340h5v1h-5z M608 340h2v1h-2z M844 340h2v1h-2z M557 341h1v1h-1z M610 341h1v1h-1z M842 341h2v1h-2z M555 342h2v1h-2z M611 342h1v1h-1z M840 342h2v1h-2z M554 343h1v1h-1z M612 343h1v1h-1z M837 343h3v1h-3z M552 344h2v1h-2z M613 344h1v1h-1z M835 344h2v1h-2z M551 345h1v1h-1z M614 345h1v1h-1z M832 345h3v1h-3z M549 346h2v1h-2z M829 346h3v1h-3z M548 347h1v1h-1z M826 347h3v1h-3z M547 348h1v1h-1z M616 348h1v1h-1z M824 348h2v1h-2z M546 349h1v1h-1z M617 349h1v1h-1z M821 349h3v1h-3z M618 350h1v1h-1z M818 350h3v1h-3z M619 351h1v1h-1z M816 351h2v1h-2z M544 352h1v1h-1z M620 352h1v1h-1z M814 352h2v1h-2z M543 353h1v1h-1z M621 353h1v1h-1z M812 353h2v1h-2z M542 354h1v1h-1z M809 354h3v1h-3z M541 355h1v1h-1z M807 355h2v1h-2z M540 356h1v1h-1z M623 356h1v1h-1z M805 356h2v1h-2z M624 357h1v1h-1z M803 357h2v1h-2z M801 358h2v1h-2z M538 359h1v1h-1z M800 359h1v1h-1z M537 360h1v1h-1z M626 360h1v1h-1z M799 360h1v1h-1z M536 361h1v1h-1z M798 361h1v1h-1z M535 362h1v1h-1z M797 362h1v1h-1z M533 363h2v1h-2z M628 363h1v1h-1z M796 363h1v1h-1z M532 364h1v1h-1z M794 364h2v1h-2z M531 365h1v1h-1z M793 365h1v1h-1z M530 366h1v1h-1z M630 366h1v1h-1z M792 366h1v1h-1z M528 367h2v1h-2z M631 367h1v1h-1z M791 367h1v1h-1z M527 368h1v1h-1z M790 368h1v1h-1z M525 369h2v1h-2z M789 369h1v1h-1z M523 370h2v1h-2z M633 370h1v1h-1z M788 370h1v1h-1z M520 371h3v1h-3z M634 371h1v1h-1z M786 371h2v1h-2z M518 372h2v1h-2z M785 372h1v1h-1z M515 373h3v1h-3z M784 373h1v1h-1z M513 374h2v1h-2z M636 374h1v1h-1z M782 374h2v1h-2z M511 375h2v1h-2z M637 375h1v1h-1z M781 375h1v1h-1z M510 376h1v1h-1z M780 376h1v1h-1z M778 377h2v1h-2z M639 378h1v1h-1z M777 378h1v1h-1z M508 379h1v1h-1z M640 379h1v1h-1z M775 379h2v1h-2z M507 380h1v1h-1z M773 380h2v1h-2z M506 381h1v1h-1z M771 381h2v1h-2z M642 382h1v1h-1z M769 382h2v1h-2z M643 383h1v1h-1z M767 383h2v1h-2z M504 384h1v1h-1z M765 384h2v1h-2z M156 385h3v1h-3z M503 385h1v1h-1z M763 385h2v1h-2z M154 386h2v1h-2z M159 386h4v1h-4z M502 386h1v1h-1z M645 386h1v1h-1z M761 386h2v1h-2z M152 387h2v1h-2z M163 387h4v1h-4z M646 387h1v1h-1z M759 387h2v1h-2z M150 388h2v1h-2z M167 388h3v1h-3z M647 388h1v1h-1z M755 388h4v1h-4z M148 389h2v1h-2z M170 389h3v1h-3z M500 389h1v1h-1z M648 389h1v1h-1z M751 389h4v1h-4z M147 390h1v1h-1z M173 390h3v1h-3z M233 390h3v1h-3z M649 390h1v1h-1z M747 390h4v1h-4z M145 391h2v1h-2z M176 391h5v1h-5z M231 391h2v1h-2z M236 391h2v1h-2z M650 391h1v1h-1z M745 391h2v1h-2z M144 392h1v1h-1z M181 392h6v1h-6z M228 392h3v1h-3z M238 392h2v1h-2z M651 392h1v1h-1z M743 392h2v1h-2z M142 393h2v1h-2z M187 393h20v1h-20z M226 393h2v1h-2z M240 393h2v1h-2z M741 393h2v1h-2z M141 394h1v1h-1z M207 394h19v1h-19z M242 394h2v1h-2z M740 394h1v1h-1z M140 395h1v1h-1z M244 395h2v1h-2z M653 395h1v1h-1z M738 395h2v1h-2z M138 396h2v1h-2z M246 396h2v1h-2z M654 396h1v1h-1z M736 396h2v1h-2z M137 397h1v1h-1z M248 397h2v1h-2z M655 397h1v1h-1z M734 397h2v1h-2z M250 398h1v1h-1z M656 398h1v1h-1z M733 398h1v1h-1z M251 399h2v1h-2z M657 399h1v1h-1z M731 399h2v1h-2z M135 400h1v1h-1z M253 400h2v1h-2z M658 400h1v1h-1z M729 400h2v1h-2z M134 401h1v1h-1z M255 401h2v1h-2z M659 401h2v1h-2z M727 401h2v1h-2z M257 402h1v1h-1z M661 402h2v1h-2z M725 402h2v1h-2z M258 403h2v1h-2z M663 403h2v1h-2z M723 403h2v1h-2z M132 404h1v1h-1z M260 404h2v1h-2z M665 404h1v1h-1z M720 404h3v1h-3z M262 405h2v1h-2z M666 405h2v1h-2z M718 405h2v1h-2z M264 406h1v1h-1z M668 406h2v1h-2z M716 406h2v1h-2z M130 407h1v1h-1z M265 407h1v1h-1z M670 407h2v1h-2z M682 407h34v1h-34z M129 408h1v1h-1z M266 408h1v1h-1z M672 408h10v1h-10z M267 409h1v1h-1z M268 410h2v1h-2z M127 411h1v1h-1z M270 411h1v1h-1z M271 412h1v1h-1z M272 413h1v1h-1z M273 414h1v1h-1z M274 415h1v1h-1z M124 416h1v1h-1z M275 416h1v1h-1z M276 417h2v1h-2z M278 418h1v1h-1z M122 419h1v1h-1z M279 419h1v1h-1z M280 420h2v1h-2z M282 421h2v1h-2z M284 422h3v1h-3z M287 423h2v1h-2z M119 424h1v1h-1z M289 424h2v1h-2z M291 425h3v1h-3z M294 426h2v1h-2z M296 427h3v1h-3z M299 428h2v1h-2z M116 429h1v1h-1z M301 429h2v1h-2z M303 430h1v1h-1z M304 431h2v1h-2z M114 432h1v1h-1z M306 432h1v1h-1z M307 433h1v1h-1z M308 434h1v1h-1z M309 435h1v1h-1z M310 436h2v1h-2z M312 437h1v1h-1z M313 438h1v1h-1z M314 439h1v1h-1z M475 439h1v1h-1z M315 440h2v1h-2z M317 441h1v1h-1z M318 442h2v1h-2z M320 443h3v1h-3z M323 444h4v1h-4z M472 444h1v1h-1z M327 445h2v1h-2z M329 446h2v1h-2z M331 447h2v1h-2z M333 448h1v1h-1z M334 449h2v1h-2z M469 449h1v1h-1z M336 450h2v1h-2z M338 451h1v1h-1z M339 452h2v1h-2z M341 453h2v1h-2z M343 454h2v1h-2z M466 454h1v1h-1z M345 455h1v1h-1z M346 456h2v1h-2z M348 457h2v1h-2z M350 458h2v1h-2z M0 459h2v1h-2z M352 459h4v1h-4z M463 459h1v1h-1z M2 460h1v1h-1z M356 460h4v1h-4z M462 460h1v1h-1z M3 461h2v1h-2z M360 461h4v1h-4z M461 461h1v1h-1z M5 462h1v1h-1z M364 462h4v1h-4z M460 462h1v1h-1z M6 463h1v1h-1z M368 463h2v1h-2z M459 463h1v1h-1z M7 464h2v1h-2z M370 464h2v1h-2z M458 464h1v1h-1z M9 465h1v1h-1z M372 465h2v1h-2z M457 465h1v1h-1z M10 466h1v1h-1z M374 466h3v1h-3z M11 467h2v1h-2z M96 467h1v1h-1z M377 467h2v1h-2z M13 468h1v1h-1z M95 468h1v1h-1z M379 468h2v1h-2z M455 468h1v1h-1z M14 469h2v1h-2z M94 469h1v1h-1z M381 469h2v1h-2z M454 469h1v1h-1z M16 470h1v1h-1z M93 470h1v1h-1z M383 470h2v1h-2z M453 470h1v1h-1z M17 471h1v1h-1z M385 471h1v1h-1z M452 471h1v1h-1z M18 472h2v1h-2z M386 472h1v1h-1z M451 472h1v1h-1z M20 473h1v1h-1z M91 473h1v1h-1z M450 473h1v1h-1z M21 474h2v1h-2z M90 474h1v1h-1z M449 474h1v1h-1z M23 475h1v1h-1z M89 475h1v1h-1z M388 475h1v1h-1z M447 475h2v1h-2z M24 476h2v1h-2z M88 476h1v1h-1z M389 476h1v1h-1z M445 476h2v1h-2z M26 477h1v1h-1z M87 477h1v1h-1z M390 477h1v1h-1z M442 477h3v1h-3z M27 478h2v1h-2z M86 478h1v1h-1z M391 478h2v1h-2z M440 478h2v1h-2z M29 479h1v1h-1z M393 479h1v1h-1z M437 479h3v1h-3z M30 480h2v1h-2z M394 480h2v1h-2z M435 480h2v1h-2z M32 481h2v1h-2z M84 481h1v1h-1z M396 481h1v1h-1z M433 481h2v1h-2z M34 482h1v1h-1z M83 482h1v1h-1z M397 482h2v1h-2z M430 482h3v1h-3z M35 483h2v1h-2z M82 483h1v1h-1z M399 483h3v1h-3z M428 483h2v1h-2z M37 484h1v1h-1z M81 484h1v1h-1z M402 484h6v1h-6z M419 484h9v1h-9z M38 485h2v1h-2z M79 485h2v1h-2z M408 485h11v1h-11z M40 486h1v1h-1z M77 486h2v1h-2z M41 487h2v1h-2z M75 487h2v1h-2z M43 488h2v1h-2z M73 488h2v1h-2z M45 489h2v1h-2z M71 489h2v1h-2z M47 490h2v1h-2z M67 490h4v1h-4z M49 491h2v1h-2z M64 491h3v1h-3z M51 492h2v1h-2z M61 492h3v1h-3z M53 493h2v1h-2z M57 493h4v1h-4z M55 494h2v1h-2z"/>
<path shape-rendering="crispEdges" fill="#3cb371" d="M120 575h1v2h-1z M121 570h1v5h-1z M122 564h1v6h-1z M123 559h1v5h-1z M124 554h1v5h-1z M125 548h1v6h-1z M126 543h1v5h-1z M127 538h1v5h-1z M128 533h1v5h-1z M129 528h1v5h-1z M130 522h1v6h-1z M131 517h1v5h-1z M132 512h1v5h-1z M133 507h1v5h-1z M134 502h1v5h-1z M135 496h1v6h-1z M136 491h1v5h-1z M137 487h1v4h-1z M138 484h1v3h-1z M139 482h1v2h-1z M140 479h1v3h-1z M141 476h1v3h-1z M142 473h1v3h-1z M143 471h1v2h-1z M144 468h1v3h-1z M145 465h1v3h-1z M146 463h1v2h-1z M147 460h1v3h-1z M148 457h1v3h-1z M149 454h1v3h-1z M150 452h1v2h-1z M151 449h1v3h-1z M152 447h1v2h-1z M165 448h1v2h-1z M265 475h1v2h-1z M266 477h1v2h-1z M267 479h1v2h-1z M268 481h1v2h-1z M269 483h1v2h-1z M270 485h1v2h-1z M271 487h1v2h-1z M272 489h1v2h-1z M315 506h1v2h-1z M322 514h1v2h-1z M325 518h1v2h-1z M329 523h1v2h-1z M332 527h1v2h-1z M334 530h1v2h-1z M335 532h1v2h-1z M336 534h1v2h-1z M337 536h1v3h-1z M338 539h1v2h-1z M339 541h1v3h-1z M340 544h1v2h-1z M341 546h1v2h-1z M342 548h1v3h-1z M343 551h1v2h-1z M344 553h1v2h-1z M385 563h1v2h-1z M388 559h1v2h-1z M391 555h1v2h-1z M448 558h1v2h-1z M449 560h1v3h-1z M450 563h1v4h-1z M451 567h1v3h-1z M452 570h1v4h-1z M453 574h1v3h-1z M528 574h1v2h-1z M530 571h1v2h-1z M533 567h1v2h-1z M536 563h1v2h-1z M537 561h1v2h-1z M538 557h1v4h-1z M539 554h1v3h-1z M540 552h1v2h-1z M541 549h1v3h-1z M542 546h1v3h-1z M543 544h1v2h-1z M544 541h1v3h-1z M545 539h1v2h-1z M546 536h1v3h-1z M547 534h1v2h-1z M548 531h1v3h-1z M549 529h1v2h-1z M550 526h1v3h-1z M551 524h1v2h-1z M552 521h1v3h-1z M553 518h1v3h-1z M554 516h1v2h-1z M555 514h1v2h-1z M556 512h1v2h-1z M558 509h1v2h-1z M559 507h1v2h-1z M611 514h1v2h-1z M618 522h1v2h-1z M623 528h1v2h-1z M629 535h1v2h-1z M640 535h1v2h-1z M642 532h1v2h-1z M643 530h1v2h-1z M644 528h1v2h-1z M645 526h1v2h-1z M646 523h1v3h-1z M647 520h1v3h-1z M648 518h1v2h-1z M649 516h1v2h-1z M650 514h1v2h-1z M651 512h1v2h-1z M653 509h1v2h-1z M655 506h1v2h-1z M656 504h1v2h-1z M658 501h1v2h-1z M661 497h1v2h-1z M663 494h1v2h-1z M730 482h1v2h-1z M734 477h1v2h-1z M737 473h1v2h-1z M741 468h1v2h-1z M772 450h1v2h-1z M776 445h1v2h-1z M780 440h1v2h-1z M790 429h1v2h-1z M791 427h1v2h-1z M792 425h1v2h-1z M793 423h1v2h-1z M794 421h1v2h-1z M796 418h1v2h-1z M799 414h1v2h-1z M857 391h1v2h-1z M858 393h1v2h-1z M859 395h1v2h-1z M860 397h1v2h-1z M861 399h1v2h-1z M862 401h1v2h-1z M863 403h1v2h-1z M867 408h1v2h-1z M911 400h1v2h-1z M914 396h1v2h-1z M922 387h1v2h-1z M923 385h1v2h-1z M924 383h1v2h-1z M925 381h1v2h-1z M926 379h1v2h-1z M927 377h1v2h-1z M928 375h1v2h-1z M929 373h1v2h-1z M930 371h1v2h-1z M931 369h1v2h-1z M934 365h1v2h-1z M969 340h1v2h-1z M970 338h1v2h-1z M971 336h1v2h-1z M972 334h1v2h-1z M973 332h1v2h-1z M974 329h1v3h-1z M975 326h1v3h-1z M976 324h1v2h-1z M977 321h1v3h-1z M978 319h1v2h-1z M979 317h1v2h-1z M980 315h1v2h-1z M981 313h1v2h-1z M982 310h1v3h-1z M983 308h1v2h-1z M984 306h1v2h-1z M985 304h1v2h-1z M986 302h1v2h-1z M987 299h1v3h-1z M988 297h1v2h-1z M989 294h1v3h-1z M990 292h1v2h-1z M991 290h1v2h-1z M992 287h1v3h-1z M993 285h1v2h-1z M994 283h1v2h-1z M995 281h1v2h-1z M996 279h1v2h-1z M997 277h1v2h-1z M998 275h1v2h-1z M999 273h1v2h-1z M1000 271h1v2h-1z M1001 268h1v3h-1z M1002 265h1v3h-1z M1003 262h1v3h-1z M1004 259h1v3h-1z M1005 256h1v3h-1z M1006 254h1v2h-1z M1007 251h1v3h-1z M1008 248h1v3h-1z M1009 246h1v2h-1z M1013 241h1v2h-1z M1121 233h1v2h-1z M1122 235h1v2h-1z M1123 237h1v2h-1z M1124 239h1v2h-1z M1125 241h1v2h-1z M1126 243h1v2h-1z M1127 245h1v2h-1z M1129 248h1v2h-1z M1131 251h1v2h-1z M1133 254h1v2h-1z M1135 257h1v2h-1z M1136 259h1v2h-1z M1137 261h1v2h-1z M1138 263h1v3h-1z M1139 266h1v2h-1z M1140 268h1v2h-1z M1141 270h1v3h-1z M1142 273h1v2h-1z M1143 275h1v3h-1z M1144 278h1v2h-1z M1145 280h1v2h-1z M1146 282h1v3h-1z M1147 285h1v2h-1z M1148 287h1v3h-1z M1149 290h1v3h-1z M1150 293h1v3h-1z M1151 296h1v2h-1z M1152 298h1v3h-1z M1153 301h1v3h-1z M1154 304h1v3h-1z M1155 307h1v3h-1z M1156 310h1v3h-1z M1157 313h1v2h-1z M1158 315h1v3h-1z M1159 318h1v3h-1z M1160 321h1v3h-1z M1161 324h1v2h-1z M1162 326h1v2h-1z M1163 328h1v2h-1z M1164 330h1v2h-1z M1165 332h1v2h-1z M1166 334h1v2h-1z M1167 336h1v2h-1z M1168 338h1v2h-1z M1169 340h1v2h-1z M1170 342h1v2h-1z M1171 344h1v2h-1z M1172 346h1v2h-1z M1173 348h1v2h-1z M1174 350h1v2h-1z M1175 352h1v2h-1z M1176 354h1v2h-1z M1177 356h1v2h-1z M1178 358h1v2h-1z M1179 360h1v2h-1z M1180 362h1v2h-1z M1181 364h1v2h-1z M1182 366h1v2h-1z M1183 368h1v2h-1z M1184 370h1v2h-1z M1185 372h1v2h-1z M1186 374h1v2h-1z M1187 376h1v2h-1z M1188 378h1v3h-1z M1189 381h1v2h-1z M1190 383h1v2h-1z M1191 385h1v3h-1z M1192 388h1v2h-1z M1193 390h1v2h-1z M1194 392h1v3h-1z M1195 395h1v2h-1z M1196 397h1v2h-1z M1197 399h1v2h-1z M1198 401h1v2h-1z M1199 403h1v2h-1z M1200 405h1v2h-1z M1201 407h1v2h-1z M1202 409h1v2h-1z M1203 411h1v2h-1z M1204 413h1v2h-1z M1205 415h1v3h-1z M1206 418h1v2h-1z M1207 420h1v2h-1z M1208 422h1v2h-1z M1209 424h1v2h-1z M1210 426h1v3h-1z M1211 429h1v2h-1z M1212 431h1v2h-1z M1213 433h1v2h-1z M1214 435h1v3h-1z M1215 438h1v2h-1z M1216 440h1v2h-1z M1217 442h1v3h-1z M1218 445h1v2h-1z M1219 447h1v2h-1z M1220 449h1v2h-1z M1221 451h1v2h-1z M1222 453h1v2h-1z M1223 455h1v2h-1z M1224 457h1v2h-1z M1225 459h1v2h-1z M1227 462h1v2h-1z M1228 464h1v2h-1z M1229 466h1v2h-1z M1230 468h1v2h-1z M1257 465h1v2h-1z M1258 463h1v2h-1z M1259 461h1v2h-1z M1260 459h1v2h-1z M1261 457h1v2h-1z M1262 455h1v2h-1z M1263 453h1v2h-1z M1264 450h1v3h-1z M1265 448h1v2h-1z M1266 446h1v2h-1z M1267 443h1v3h-1z M1268 441h1v2h-1z M1269 438h1v3h-1z M1270 436h1v2h-1z M1271 433h1v3h-1z M1272 430h1v3h-1z M1273 428h1v2h-1z M1274 425h1v3h-1z M1275 422h1v3h-1z M1276 420h1v2h-1z M1277 418h1v2h-1z M1278 416h1v2h-1z M1279 414h1v2h-1z M1280 412h1v2h-1z M1289 406h1v2h-1z M1292 402h1v2h-1z M1295 398h1v2h-1z M1372 406h1v2h-1z M1377 400h1v2h-1z M1378 398h1v2h-1z M1379 396h1v2h-1z M1380 394h1v2h-1z M1381 392h1v2h-1z M1382 390h1v2h-1z M1383 388h1v2h-1z M1384 386h1v2h-1z M1385 384h1v2h-1z M1386 382h1v2h-1z M1387 380h1v2h-1z M1389 377h1v2h-1z M1390 375h1v2h-1z M1391 373h1v2h-1z M1393 370h1v2h-1z M1394 368h1v2h-1z M1396 365h1v2h-1z M1398 362h1v2h-1z M1400 359h1v2h-1z M1401 357h1v2h-1z M1403 354h1v2h-1z M1405 351h1v2h-1z M1407 348h1v2h-1z M1409 345h1v2h-1z M1412 341h1v2h-1z M1414 338h1v2h-1z M1416 335h1v2h-1z M1119 233h2v1h-2z M1114 234h5v1h-5z M1109 235h5v1h-5z M1105 236h4v1h-4z M1101 237h4v1h-4z M1016 238h19v1h-19z M1097 238h4v1h-4z M1015 239h1v1h-1z M1035 239h6v1h-6z M1093 239h4v1h-4z M1014 240h1v1h-1z M1041 240h6v1h-6z M1089 240h4v1h-4z M1047 241h7v1h-7z M1085 241h4v1h-4z M1054 242h7v1h-7z M1080 242h5v1h-5z M1012 243h1v1h-1z M1061 243h8v1h-8z M1075 243h5v1h-5z M1011 244h1v1h-1z M1069 244h6v1h-6z M1010 245h1v1h-1z M1128 247h1v1h-1z M1130 250h1v1h-1z M1132 253h1v1h-1z M1134 256h1v1h-1z M1430 327h2v1h-2z M1428 328h2v1h-2z M1426 329h2v1h-2z M1424 330h2v1h-2z M1422 331h2v1h-2z M1420 332h2v1h-2z M1418 333h2v1h-2z M1417 334h1v1h-1z M1415 337h1v1h-1z M1413 340h1v1h-1z M968 342h1v1h-1z M967 343h1v1h-1z M1411 343h1v1h-1z M966 344h1v1h-1z M1410 344h1v1h-1z M965 345h1v1h-1z M964 346h1v1h-1z M963 347h1v1h-1z M1408 347h1v1h-1z M962 348h1v1h-1z M961 349h1v1h-1z M959 350h2v1h-2z M1406 350h1v1h-1z M956 351h3v1h-3z M954 352h2v1h-2z M952 353h2v1h-2z M1404 353h1v1h-1z M950 354h2v1h-2z M948 355h2v1h-2z M946 356h2v1h-2z M1402 356h1v1h-1z M945 357h1v1h-1z M943 358h2v1h-2z M942 359h1v1h-1z M940 360h2v1h-2z M939 361h1v1h-1z M1399 361h1v1h-1z M937 362h2v1h-2z M936 363h1v1h-1z M935 364h1v1h-1z M1397 364h1v1h-1z M933 367h1v1h-1z M1395 367h1v1h-1z M932 368h1v1h-1z M1392 372h1v1h-1z M1388 379h1v1h-1z M847 385h1v1h-1z M845 386h2v1h-2z M848 386h2v1h-2z M844 387h1v1h-1z M850 387h2v1h-2z M842 388h2v1h-2z M852 388h2v1h-2z M841 389h1v1h-1z M854 389h2v1h-2z M921 389h1v1h-1z M839 390h2v1h-2z M856 390h1v1h-1z M920 390h1v1h-1z M838 391h1v1h-1z M919 391h1v1h-1z M836 392h2v1h-2z M918 392h1v1h-1z M834 393h2v1h-2z M917 393h1v1h-1z M832 394h2v1h-2z M916 394h1v1h-1z M830 395h2v1h-2z M915 395h1v1h-1z M829 396h1v1h-1z M827 397h2v1h-2z M1296 397h4v1h-4z M825 398h2v1h-2z M913 398h1v1h-1z M1300 398h5v1h-5z M824 399h1v1h-1z M912 399h1v1h-1z M1305 399h2v1h-2z M822 400h2v1h-2z M1294 400h1v1h-1z M1307 400h1v1h-1z M820 401h2v1h-2z M1293 401h1v1h-1z M1308 401h2v1h-2z M819 402h1v1h-1z M910 402h1v1h-1z M1310 402h2v1h-2z M1376 402h1v1h-1z M817 403h2v1h-2z M909 403h1v1h-1z M1312 403h12v1h-12z M1375 403h1v1h-1z M816 404h1v1h-1z M908 404h1v1h-1z M1291 404h1v1h-1z M1324 404h4v1h-4z M1374 404h1v1h-1z M814 405h2v1h-2z M864 405h1v1h-1z M907 405h1v1h-1z M1290 405h1v1h-1z M1328 405h4v1h-4z M1373 405h1v1h-1z M813 406h1v1h-1z M865 406h1v1h-1z M906 406h1v1h-1z M1332 406h3v1h-3z M811 407h2v1h-2z M866 407h1v1h-1z M905 407h1v1h-1z M1335 407h2v1h-2z M809 408h2v1h-2z M903 408h2v1h-2z M1287 408h2v1h-2z M1337 408h2v1h-2z M1371 408h1v1h-1z M807 409h2v1h-2z M901 409h2v1h-2z M1285 409h2v1h-2z M1339 409h2v1h-2z M1370 409h1v1h-1z M805 410h2v1h-2z M868 410h1v1h-1z M899 410h2v1h-2z M1283 410h2v1h-2z M1341 410h2v1h-2z M1369 410h1v1h-1z M803 411h2v1h-2z M869 411h1v1h-1z M897 411h2v1h-2z M1281 411h2v1h-2z M1343 411h3v1h-3z M1366 411h3v1h-3z M801 412h2v1h-2z M870 412h1v1h-1z M894 412h3v1h-3z M1346 412h2v1h-2z M1362 412h4v1h-4z M800 413h1v1h-1z M871 413h2v1h-2z M892 413h2v1h-2z M1348 413h3v1h-3z M1356 413h6v1h-6z M873 414h2v1h-2z M890 414h2v1h-2z M1351 414h5v1h-5z M875 415h3v1h-3z M888 415h2v1h-2z M798 416h1v1h-1z M878 416h2v1h-2z M884 416h4v1h-4z M797 417h1v1h-1z M880 417h4v1h-4z M795 420h1v1h-1z M789 431h1v1h-1z M788 432h1v1h-1z M787 433h1v1h-1z M786 434h1v1h-1z M785 435h1v1h-1z M784 436h1v1h-1z M783 437h1v1h-1z M782 438h1v1h-1z M781 439h1v1h-1z M779 442h1v1h-1z M159 443h2v1h-2z M778 443h1v1h-1z M157 444h2v1h-2z M161 444h1v1h-1z M777 444h1v1h-1z M155 445h2v1h-2z M162 445h1v1h-1z M153 446h2v1h-2z M163 446h1v1h-1z M164 447h1v1h-1z M775 447h1v1h-1z M774 448h1v1h-1z M773 449h1v1h-1z M166 450h1v1h-1z M167 451h1v1h-1z M168 452h1v1h-1z M771 452h1v1h-1z M169 453h1v1h-1z M770 453h1v1h-1z M170 454h2v1h-2z M768 454h2v1h-2z M172 455h1v1h-1z M766 455h2v1h-2z M173 456h2v1h-2z M765 456h1v1h-1z M175 457h1v1h-1z M763 457h2v1h-2z M176 458h2v1h-2z M761 458h2v1h-2z M178 459h2v1h-2z M760 459h1v1h-1z M180 460h3v1h-3z M758 460h2v1h-2z M183 461h3v1h-3z M756 461h2v1h-2z M1226 461h1v1h-1z M186 462h3v1h-3z M754 462h2v1h-2z M189 463h3v1h-3z M751 463h3v1h-3z M192 464h5v1h-5z M231 464h9v1h-9z M748 464h3v1h-3z M197 465h6v1h-6z M215 465h16v1h-16z M240 465h2v1h-2z M745 465h3v1h-3z M203 466h12v1h-12z M242 466h3v1h-3z M743 466h2v1h-2z M245 467h3v1h-3z M742 467h1v1h-1z M1255 467h2v1h-2z M248 468h2v1h-2z M1252 468h3v1h-3z M250 469h3v1h-3z M1250 469h2v1h-2z M253 470h2v1h-2z M740 470h1v1h-1z M1231 470h2v1h-2z M1247 470h3v1h-3z M255 471h3v1h-3z M739 471h1v1h-1z M1233 471h3v1h-3z M1244 471h3v1h-3z M258 472h3v1h-3z M738 472h1v1h-1z M1236 472h3v1h-3z M1242 472h2v1h-2z M261 473h2v1h-2z M1239 473h3v1h-3z M263 474h2v1h-2z M736 475h1v1h-1z M735 476h1v1h-1z M733 479h1v1h-1z M732 480h1v1h-1z M731 481h1v1h-1z M729 484h1v1h-1z M704 485h6v1h-6z M727 485h2v1h-2z M676 486h7v1h-7z M699 486h5v1h-5z M710 486h8v1h-8z M723 486h4v1h-4z M672 487h4v1h-4z M683 487h6v1h-6z M695 487h4v1h-4z M718 487h5v1h-5z M670 488h2v1h-2z M689 488h6v1h-6z M669 489h1v1h-1z M668 490h1v1h-1z M273 491h1v1h-1z M666 491h2v1h-2z M274 492h1v1h-1z M665 492h1v1h-1z M275 493h1v1h-1z M664 493h1v1h-1z M276 494h1v1h-1z M277 495h1v1h-1z M278 496h1v1h-1z M662 496h1v1h-1z M279 497h1v1h-1z M300 497h3v1h-3z M280 498h1v1h-1z M295 498h5v1h-5z M303 498h2v1h-2z M281 499h1v1h-1z M291 499h4v1h-4z M305 499h2v1h-2z M660 499h1v1h-1z M282 500h1v1h-1z M286 500h5v1h-5z M307 500h2v1h-2z M659 500h1v1h-1z M283 501h3v1h-3z M309 501h2v1h-2z M311 502h1v1h-1z M312 503h1v1h-1z M657 503h1v1h-1z M313 504h1v1h-1z M566 504h6v1h-6z M597 504h3v1h-3z M314 505h1v1h-1z M562 505h4v1h-4z M572 505h5v1h-5z M593 505h4v1h-4z M600 505h2v1h-2z M560 506h2v1h-2z M577 506h2v1h-2z M591 506h2v1h-2z M602 506h1v1h-1z M579 507h1v1h-1z M589 507h2v1h-2z M603 507h1v1h-1z M316 508h1v1h-1z M580 508h2v1h-2z M587 508h2v1h-2z M604 508h2v1h-2z M654 508h1v1h-1z M317 509h1v1h-1z M582 509h2v1h-2z M585 509h2v1h-2z M606 509h1v1h-1z M318 510h1v1h-1z M584 510h1v1h-1z M607 510h1v1h-1z M319 511h1v1h-1z M557 511h1v1h-1z M608 511h1v1h-1z M652 511h1v1h-1z M320 512h1v1h-1z M609 512h1v1h-1z M321 513h1v1h-1z M610 513h1v1h-1z M323 516h1v1h-1z M612 516h1v1h-1z M324 517h1v1h-1z M613 517h1v1h-1z M614 518h1v1h-1z M615 519h1v1h-1z M326 520h1v1h-1z M616 520h1v1h-1z M327 521h1v1h-1z M617 521h1v1h-1z M328 522h1v1h-1z M619 524h1v1h-1z M330 525h1v1h-1z M620 525h1v1h-1z M331 526h1v1h-1z M621 526h1v1h-1z M622 527h1v1h-1z M333 529h1v1h-1z M624 530h1v1h-1z M625 531h1v1h-1z M626 532h1v1h-1z M627 533h1v1h-1z M628 534h1v1h-1z M641 534h1v1h-1z M630 537h1v1h-1z M638 537h2v1h-2z M631 538h1v1h-1z M634 538h4v1h-4z M632 539h2v1h-2z M426 549h12v1h-12z M417 550h9v1h-9z M438 550h3v1h-3z M409 551h8v1h-8z M441 551h1v1h-1z M401 552h8v1h-8z M442 552h1v1h-1z M395 553h6v1h-6z M443 553h1v1h-1z M392 554h3v1h-3z M444 554h1v1h-1z M345 555h1v1h-1z M445 555h1v1h-1z M346 556h2v1h-2z M446 556h1v1h-1z M348 557h1v1h-1z M390 557h1v1h-1z M447 557h1v1h-1z M349 558h1v1h-1z M389 558h1v1h-1z M350 559h2v1h-2z M352 560h11v1h-11z M363 561h13v1h-13z M387 561h1v1h-1z M376 562h2v1h-2z M386 562h1v1h-1z M378 563h3v1h-3z M381 564h2v1h-2z M383 565h2v1h-2z M535 565h1v1h-1z M534 566h1v1h-1z M532 569h1v1h-1z M531 570h1v1h-1z M529 573h1v1h-1z M527 576h1v1h-1z"/>
<g shape-rendering="crispEdges" fill="#000">
<path fill="#fff" d="M-1 427h3v66h-3z M7 371h3v53h-3z M15 399h3v10h-3z M47 396h3v39h-3z M63 436h3v3h-3z M71 411h3v24h-3z M79 388h3v21h-3z M87 353h3v34h-3z M119 343h3v17h-3z M135 360h3v1h-3z M175 434h3v11h-3z M183 430h3v3h-3z M199 431h3v2h-3z M207 419h3v11h-3z M223 431h3v7h-3z M231 353h3v77h-3z M279 483h3v26h-3z M287 453h3v29h-3z M295 439h3v5h-3z M327 494h3v17h-3z M351 507h3v53h-3z M359 462h3v44h-3z M391 496h3v2h-3z M399 491h3v3h-3z M407 446h3v44h-3z M423 445h3v14h-3z M431 434h3v9h-3z M447 379h3v51h-3z M455 277h3v101h-3z M463 272h3v5h-3z M471 251h3v20h-3z M479 202h3v49h-3z M487 180h3v11h-3z M543 319h3v60h-3z M591 405h3v64h-3z M615 424h3v10h-3z M631 455h3v2h-3z M639 451h3v3h-3z M647 399h3v51h-3z M655 397h3v1h-3z M663 390h3v6h-3z M671 386h3v3h-3z M679 382h3v2h-3z M695 355h3v29h-3z M703 340h3v14h-3z M743 360h3v4h-3z M759 362h3v5h-3z M775 366h3v4h-3z M783 324h3v41h-3z M791 312h3v11h-3z M799 297h3v14h-3z M831 325h3v2h-3z M839 319h3v5h-3z M847 301h3v17h-3z M855 263h3v36h-3z M863 212h3v50h-3z M871 209h3v3h-3z M879 209h3v1h-3z M895 214h3v12h-3z M903 208h3v5h-3z M927 212h3v16h-3z M935 197h3v14h-3z M943 182h3v14h-3z M951 165h3v16h-3z M967 171h3v1h-3z M983 179h3v19h-3z M999 170h3v23h-3z M1031 161h3v52h-3z M1047 127h3v32h-3z M1071 94h3v26h-3z M1079 84h3v8h-3z M1103 113h3v16h-3z M1135 232h3v26h-3z M1159 315h3v1h-3z M1183 306h3v14h-3z M1207 344h3v1h-3z M1239 371h3v22h-3z M1255 361h3v2h-3z M1263 323h3v37h-3z M1271 315h3v7h-3z M1279 305h3v9h-3z M1295 301h3v11h-3z M1311 261h3v34h-3z M1327 279h3v28h-3z M1335 266h3v12h-3z M1343 246h3v20h-3z M1375 282h3v14h-3z M1391 302h3v13h-3z M1399 302h3v3h-3z M1407 292h3v9h-3z M1415 288h3v3h-3z M1423 257h3v29h-3z"/>
<path d="M0 396h1v30h-1z M0 494h1v28h-1z M8 368h1v2h-1z M8 425h1v38h-1z M16 393h1v5h-1z M24 374h1v23h-1z M24 404h1v35h-1z M32 365h1v37h-1z M32 415h1v10h-1z M40 405h1v9h-1z M40 436h1v13h-1z M48 386h1v9h-1z M48 436h1v11h-1z M56 392h1v3h-1z M56 435h1v12h-1z M64 434h1v1h-1z M64 440h1v2h-1z M72 368h1v42h-1z M72 436h1v2h-1z M80 351h1v36h-1z M80 410h1v15h-1z M88 350h1v2h-1z M88 388h1v14h-1z M96 322h1v28h-1z M96 352h1v14h-1z M104 344h1v1h-1z M104 352h1v3h-1z M112 346h1v5h-1z M112 361h1v10h-1z M120 331h1v11h-1z M120 361h1v7h-1z M128 340h1v2h-1z M128 363h1v42h-1z M136 353h1v6h-1z M136 362h1v39h-1z M144 356h1v3h-1z M144 376h1v18h-1z M152 373h1v2h-1z M160 361h1v10h-1z M160 392h1v7h-1z M168 388h1v3h-1z M168 448h1v23h-1z M176 417h1v16h-1z M176 446h1v20h-1z M184 402h1v27h-1z M184 434h1v18h-1z M192 422h1v6h-1z M192 441h1v12h-1z M200 429h1v1h-1z M200 434h1v2h-1z M208 406h1v12h-1z M208 431h1v2h-1z M216 407h1v10h-1z M216 439h1v2h-1z M224 428h1v2h-1z M224 439h1v31h-1z M232 332h1v20h-1z M232 431h1v11h-1z M240 346h1v6h-1z M240 413h1v2h-1z M248 421h1v4h-1z M248 432h1v3h-1z M256 419h1v12h-1z M256 438h1v10h-1z M264 421h1v16h-1z M264 450h1v3h-1z M272 511h1v9h-1z M280 466h1v16h-1z M280 510h1v5h-1z M288 440h1v12h-1z M288 483h1v2h-1z M296 437h1v1h-1z M296 445h1v4h-1z M304 421h1v16h-1z M304 442h1v31h-1z M312 434h1v7h-1z M312 495h1v2h-1z M320 469h1v25h-1z M320 512h1v8h-1z M328 492h1v1h-1z M328 512h1v28h-1z M336 488h1v5h-1z M344 554h1v1h-1z M344 562h1v2h-1z M352 495h1v11h-1z M352 561h1v2h-1z M360 447h1v14h-1z M360 507h1v8h-1z M368 450h1v11h-1z M368 481h1v9h-1z M376 468h1v12h-1z M376 485h1v13h-1z M384 475h1v9h-1z M384 508h1v11h-1z M392 494h1v1h-1z M392 499h1v2h-1z M400 489h1v1h-1z M400 495h1v12h-1z M408 427h1v18h-1z M408 491h1v1h-1z M416 428h1v17h-1z M416 460h1v23h-1z M424 433h1v11h-1z M424 460h1v14h-1z M432 410h1v23h-1z M432 444h1v32h-1z M440 430h1v4h-1z M448 369h1v9h-1z M448 431h1v1h-1z M456 275h1v1h-1z M456 379h1v1h-1z M464 258h1v13h-1z M464 278h1v25h-1z M472 242h1v8h-1z M472 272h1v43h-1z M480 167h1v34h-1z M480 252h1v11h-1z M488 173h1v6h-1z M496 233h1v25h-1z M504 227h1v6h-1z M504 274h1v30h-1z M512 257h1v15h-1z M512 312h1v3h-1z M520 295h1v15h-1z M520 379h1v7h-1z M528 310h1v67h-1z M528 383h1v15h-1z M536 371h1v1h-1z M536 381h1v5h-1z M544 380h1v30h-1z M552 298h1v20h-1z M552 347h1v15h-1z M560 345h1v1h-1z M560 385h1v3h-1z M568 376h1v9h-1z M568 432h1v21h-1z M576 419h1v11h-1z M576 467h1v3h-1z M584 469h1v2h-1z M584 472h1v4h-1z M592 401h1v3h-1z M592 470h1v7h-1z M600 390h1v14h-1z M600 418h1v26h-1z M608 404h1v13h-1z M608 435h1v6h-1z M616 404h1v19h-1z M616 435h1v2h-1z M624 418h1v6h-1z M624 457h1v9h-1z M632 458h1v3h-1z M640 440h1v10h-1z M640 455h1v15h-1z M648 394h1v4h-1z M648 451h1v17h-1z M656 380h1v16h-1z M656 399h1v32h-1z M664 362h1v27h-1z M664 397h1v1h-1z M672 381h1v4h-1z M672 390h1v12h-1z M680 380h1v1h-1z M680 385h1v1h-1z M688 363h1v18h-1z M688 385h1v4h-1z M696 335h1v19h-1z M696 385h1v1h-1z M704 334h1v5h-1z M704 355h1v13h-1z M712 315h1v23h-1z M712 345h1v5h-1z M720 351h1v28h-1z M728 347h1v1h-1z M728 353h1v1h-1z M736 332h1v18h-1z M736 365h1v3h-1z M744 356h1v3h-1z M744 365h1v26h-1z M752 347h1v12h-1z M752 367h1v5h-1z M760 344h1v17h-1z M760 368h1v20h-1z M768 354h1v7h-1z M768 375h1v11h-1z M784 315h1v8h-1z M784 366h1v11h-1z M792 295h1v16h-1z M800 288h1v8h-1z M800 312h1v29h-1z M808 288h1v8h-1z M808 313h1v6h-1z M816 310h1v2h-1z M816 330h1v22h-1z M824 322h1v5h-1z M824 328h1v4h-1z M832 318h1v6h-1z M832 328h1v19h-1z M840 307h1v11h-1z M840 325h1v14h-1z M848 294h1v6h-1z M848 319h1v6h-1z M856 258h1v4h-1z M856 300h1v10h-1z M864 188h1v23h-1z M864 263h1v19h-1z M872 207h1v1h-1z M872 213h1v2h-1z M880 194h1v14h-1z M880 211h1v34h-1z M888 199h1v9h-1z M888 227h1v16h-1z M896 195h1v18h-1z M896 227h1v7h-1z M904 186h1v21h-1z M904 214h1v4h-1z M912 205h1v2h-1z M912 225h1v16h-1z M920 227h1v1h-1z M920 230h1v1h-1z M928 209h1v2h-1z M928 229h1v3h-1z M936 176h1v20h-1z M936 212h1v1h-1z M944 172h1v9h-1z M944 197h1v5h-1z M952 149h1v15h-1z M952 182h1v4h-1z M960 156h1v8h-1z M960 177h1v6h-1z M968 173h1v1h-1z M976 169h1v1h-1z M976 199h1v8h-1z M984 171h1v7h-1z M984 199h1v13h-1z M992 159h1v18h-1z M992 194h1v10h-1z M1000 161h1v8h-1z M1000 194h1v19h-1z M1008 159h1v10h-1z M1008 214h1v11h-1z M1016 207h1v1h-1z M1024 195h1v15h-1z M1024 214h1v11h-1z M1032 155h1v5h-1z M1032 214h1v5h-1z M1040 145h1v14h-1z M1040 161h1v11h-1z M1048 122h1v4h-1z M1048 160h1v11h-1z M1056 94h1v33h-1z M1056 133h1v24h-1z M1064 121h1v5h-1z M1072 78h1v15h-1z M1072 121h1v17h-1z M1080 51h1v32h-1z M1080 93h1v13h-1z M1088 80h1v4h-1z M1088 89h1v29h-1z M1096 88h1v1h-1z M1096 130h1v9h-1z M1104 101h1v11h-1z M1104 130h1v23h-1z M1112 98h1v31h-1z M1120 118h1v7h-1z M1120 162h1v11h-1z M1128 160h1v1h-1z M1128 259h1v13h-1z M1136 220h1v11h-1z M1136 259h1v25h-1z M1144 221h1v10h-1z M1144 315h1v14h-1z M1152 289h1v24h-1z M1152 324h1v5h-1z M1160 317h1v2h-1z M1168 289h1v25h-1z M1168 319h1v3h-1z M1176 295h1v23h-1z M1176 321h1v14h-1z M1184 294h1v11h-1z M1184 321h1v9h-1z M1192 319h1v49h-1z M1200 306h1v11h-1z M1200 346h1v7h-1z M1216 338h1v5h-1z M1216 383h1v25h-1z M1224 374h1v8h-1z M1224 396h1v30h-1z M1232 366h1v28h-1z M1232 395h1v29h-1z M1240 364h1v6h-1z M1240 394h1v12h-1z M1248 357h1v14h-1z M1248 374h1v22h-1z M1256 358h1v2h-1z M1264 303h1v19h-1z M1264 361h1v13h-1z M1272 302h1v12h-1z M1272 323h1v11h-1z M1280 291h1v13h-1z M1280 315h1v29h-1z M1288 276h1v28h-1z M1288 313h1v26h-1z M1296 297h1v3h-1z M1296 313h1v37h-1z M1304 292h1v3h-1z M1304 297h1v2h-1z M1312 257h1v3h-1z M1312 296h1v8h-1z M1320 256h1v4h-1z M1320 309h1v8h-1z M1328 276h1v2h-1z M1328 308h1v6h-1z M1336 257h1v8h-1z M1336 279h1v5h-1z M1344 243h1v2h-1z M1344 267h1v15h-1z M1360 245h1v3h-1z M1360 251h1v15h-1z M1368 243h1v6h-1z M1368 297h1v2h-1z M1376 260h1v21h-1z M1376 297h1v29h-1z M1384 266h1v15h-1z M1384 315h1v7h-1z M1392 296h1v5h-1z M1392 316h1v20h-1z M1400 299h1v2h-1z M1408 263h1v28h-1z M1408 302h1v2h-1z M1416 283h1v4h-1z M1416 292h1v8h-1z M1424 247h1v9h-1z M1424 287h1v4h-1z M1432 250h1v6h-1z M1432 266h1v10h-1z"/>
<path fill-rule="evenodd" d="M-2 426h5v68h-5z M-1 427v66h3v-66z M6 370h5v55h-5z M7 371v53h3v-53z M14 398h5v12h-5z M15 399v10h3v-10z M46 395h5v41h-5z M47 396v39h3v-39z M62 435h5v5h-5z M63 436v3h3v-3z M70 410h5v26h-5z M71 411v24h3v-24z M78 387h5v23h-5z M79 388v21h3v-21z M86 352h5v36h-5z M87 353v34h3v-34z M118 342h5v19h-5z M119 343v17h3v-17z M134 359h5v3h-5z M135 360v1h3v-1z M174 433h5v13h-5z M175 434v11h3v-11z M182 429h5v5h-5z M183 430v3h3v-3z M198 430h5v4h-5z M199 431v2h3v-2z M206 418h5v13h-5z M207 419v11h3v-11z M222 430h5v9h-5z M223 431v7h3v-7z M230 352h5v79h-5z M231 353v77h3v-77z M278 482h5v28h-5z M279 483v26h3v-26z M286 452h5v31h-5z M287 453v29h3v-29z M294 438h5v7h-5z M295 439v5h3v-5z M326 493h5v19h-5z M327 494v17h3v-17z M350 506h5v55h-5z M351 507v53h3v-53z M358 461h5v46h-5z M359 462v44h3v-44z M390 495h5v4h-5z M391 496v2h3v-2z M398 490h5v5h-5z M399 491v3h3v-3z M406 445h5v46h-5z M407 446v44h3v-44z M422 444h5v16h-5z M423 445v14h3v-14z M430 433h5v11h-5z M431 434v9h3v-9z M446 378h5v53h-5z M447 379v51h3v-51z M454 276h5v103h-5z M455 277v101h3v-101z M462 271h5v7h-5z M463 272v5h3v-5z M470 250h5v22h-5z M471 251v20h3v-20z M478 201h5v51h-5z M479 202v49h3v-49z M486 179h5v13h-5z M487 180v11h3v-11z M542 318h5v62h-5z M543 319v60h3v-60z M590 404h5v66h-5z M591 405v64h3v-64z M614 423h5v12h-5z M615 424v10h3v-10z M630 454h5v4h-5z M631 455v2h3v-2z M638 450h5v5h-5z M639 451v3h3v-3z M646 398h5v53h-5z M647 399v51h3v-51z M654 396h5v3h-5z M655 397v1h3v-1z M662 389h5v8h-5z M663 390v6h3v-6z M670 385h5v5h-5z M671 386v3h3v-3z M678 381h5v4h-5z M679 382v2h3v-2z M694 354h5v31h-5z M695 355v29h3v-29z M702 339h5v16h-5z M703 340v14h3v-14z M742 359h5v6h-5z M743 360v4h3v-4z M758 361h5v7h-5z M759 362v5h3v-5z M774 365h5v6h-5z M775 366v4h3v-4z M782 323h5v43h-5z M783 324v41h3v-41z M790 311h5v13h-5z M791 312v11h3v-11z M798 296h5v16h-5z M799 297v14h3v-14z M830 324h5v4h-5z M831 325v2h3v-2z M838 318h5v7h-5z M839 319v5h3v-5z M846 300h5v19h-5z M847 301v17h3v-17z M854 262h5v38h-5z M855 263v36h3v-36z M862 211h5v52h-5z M863 212v50h3v-50z M870 208h5v5h-5z M871 209v3h3v-3z M878 208h5v3h-5z M879 209v1h3v-1z M894 213h5v14h-5z M895 214v12h3v-12z M902 207h5v7h-5z M903 208v5h3v-5z M926 211h5v18h-5z M927 212v16h3v-16z M934 196h5v16h-5z M935 197v14h3v-14z M942 181h5v16h-5z M943 182v14h3v-14z M950 164h5v18h-5z M951 165v16h3v-16z M966 170h5v3h-5z M967 171v1h3v-1z M982 178h5v21h-5z M983 179v19h3v-19z M998 169h5v25h-5z M999 170v23h3v-23z M1030 160h5v54h-5z M1031 161v52h3v-52z M1046 126h5v34h-5z M1047 127v32h3v-32z M1070 93h5v28h-5z M1071 94v26h3v-26z M1078 83h5v10h-5z M1079 84v8h3v-8z M1102 112h5v18h-5z M1103 113v16h3v-16z M1134 231h5v28h-5z M1135 232v26h3v-26z M1158 314h5v3h-5z M1159 315v1h3v-1z M1182 305h5v16h-5z M1183 306v14h3v-14z M1206 343h5v3h-5z M1207 344v1h3v-1z M1238 370h5v24h-5z M1239 371v22h3v-22z M1254 360h5v4h-5z M1255 361v2h3v-2z M1262 322h5v39h-5z M1263 323v37h3v-37z M1270 314h5v9h-5z M1271 315v7h3v-7z M1278 304h5v11h-5z M1279 305v9h3v-9z M1294 300h5v13h-5z M1295 301v11h3v-11z M1310 260h5v36h-5z M1311 261v34h3v-34z M1326 278h5v30h-5z M1327 279v28h3v-28z M1334 265h5v14h-5z M1335 266v12h3v-12z M1342 245h5v22h-5z M1343 246v20h3v-20z M1374 281h5v16h-5z M1375 282v14h3v-14z M1390 301h5v15h-5z M1391 302v13h3v-13z M1398 301h5v5h-5z M1399 302v3h3v-3z M1406 291h5v11h-5z M1407 292v9h3v-9z M1414 287h5v5h-5z M1415 288v3h3v-3z M1422 256h5v31h-5z M1423 257v29h3v-29z"/>
<path d="M22 397h5v7h-5z M30 402h5v13h-5z M38 414h5v22h-5z M54 395h5v40h-5z M94 350h5v2h-5z M102 345h5v7h-5z M110 351h5v10h-5z M126 342h5v21h-5z M142 359h5v17h-5z M150 371h5v2h-5z M158 371h5v21h-5z M166 391h5v57h-5z M190 428h5v13h-5z M214 417h5v22h-5z M238 352h5v61h-5z M246 425h5v7h-5z M254 431h5v7h-5z M262 437h5v13h-5z M270 449h5v62h-5z M302 437h5v5h-5z M310 441h5v54h-5z M318 494h5v18h-5z M334 493h5v53h-5z M342 555h5v7h-5z M366 461h5v20h-5z M374 480h5v5h-5z M382 484h5v24h-5z M414 445h5v15h-5z M438 428h5v2h-5z M494 179h5v54h-5z M502 233h5v41h-5z M510 272h5v40h-5z M518 310h5v69h-5z M526 377h5v6h-5z M534 372h5v9h-5z M550 318h5v29h-5z M558 346h5v39h-5z M566 385h5v47h-5z M574 430h5v37h-5z M582 471h5v1h-5z M598 404h5v14h-5z M606 417h5v18h-5z M622 424h5v33h-5z M686 381h5v4h-5z M710 338h5v7h-5z M718 343h5v8h-5z M726 348h5v5h-5z M734 350h5v15h-5z M750 359h5v8h-5z M766 361h5v14h-5z M806 296h5v17h-5z M814 312h5v18h-5z M822 327h5v1h-5z M886 208h5v19h-5z M910 207h5v18h-5z M918 228h5v2h-5z M958 164h5v13h-5z M974 170h5v29h-5z M990 177h5v17h-5z M1006 169h5v45h-5z M1014 208h5v3h-5z M1022 210h5v4h-5z M1038 159h5v2h-5z M1054 127h5v6h-5z M1062 118h5v3h-5z M1086 84h5v5h-5z M1094 89h5v41h-5z M1110 96h5v2h-5z M1118 125h5v37h-5z M1126 161h5v98h-5z M1142 231h5v84h-5z M1150 313h5v11h-5z M1166 314h5v5h-5z M1174 318h5v3h-5z M1190 306h5v13h-5z M1198 317h5v29h-5z M1214 343h5v40h-5z M1222 382h5v14h-5z M1230 394h5v1h-5z M1246 371h5v3h-5z M1286 304h5v9h-5z M1302 295h5v2h-5z M1318 260h5v49h-5z M1350 245h5v5h-5z M1358 248h5v3h-5z M1366 249h5v48h-5z M1382 281h5v34h-5z M1430 256h5v10h-5z"/>
</g>
<rect x="1238" y="271" width="218" height="6" fill="#00ff00" shape-rendering="crispEdges"/>
<line x1="1225.3" y1="426.6" x2="1355.5" y2="259.4" stroke="#ff0000" stroke-width="3.3"/><polygon points="1361.3,251.9 1358,263.9 1350.4,258" fill="#ff0000"/>
<line x1="1362.6" y1="252.6" x2="1389.3" y2="311" stroke="#ff0000" stroke-width="3.3"/><polygon points="1393.3,319.6 1384.1,311.1 1392.9,307.1" fill="#ff0000"/>
<line x1="1393.3" y1="319.6" x2="1430.7" y2="260" stroke="#ff0000" stroke-width="3.3"/><polygon points="1435.7,251.9 1433.7,264.2 1425.5,259.1" fill="#ff0000"/>
<rect x="1009.5" y="44.5" width="61" height="18" fill="#fff" stroke="#ff0000" stroke-width="1" shape-rendering="crispEdges"/><text x="1011.5" y="60.2" font-size="16.8" fill="#ff0000" textLength="57.7" lengthAdjust="spacingAndGlyphs">142.659</text><rect x="1071" y="53" width="9" height="1" fill="#ff0000" shape-rendering="crispEdges"/>
<rect x="409.5" y="158.5" width="61" height="18" fill="#fff" stroke="#ff0000" stroke-width="1" shape-rendering="crispEdges"/><text x="411.5" y="174.1" font-size="16.8" fill="#ff0000" textLength="57.7" lengthAdjust="spacingAndGlyphs">139.715</text><rect x="471" y="167" width="9" height="1" fill="#ff0000" shape-rendering="crispEdges"/>
<rect x="513.5" y="468.5" width="61" height="18" fill="#fff" stroke="#ff0000" stroke-width="1" shape-rendering="crispEdges"/><text x="515.5" y="484.1" font-size="16.8" fill="#ff0000" textLength="57.7" lengthAdjust="spacingAndGlyphs">131.734</text><rect x="575" y="477" width="10" height="1" fill="#ff0000" shape-rendering="crispEdges"/>
<rect x="1153.5" y="417.5" width="61" height="18" fill="#fff" stroke="#ff0000" stroke-width="1" shape-rendering="crispEdges"/><text x="1155.5" y="433.2" font-size="16.8" fill="#ff0000" textLength="57.7" lengthAdjust="spacingAndGlyphs">133.029</text><rect x="1215" y="426" width="9" height="1" fill="#ff0000" shape-rendering="crispEdges"/>
<rect x="1035.5" y="260.5" width="73" height="24" fill="#fff" stroke="#ff0000" stroke-width="1" shape-rendering="crispEdges"/><text x="1036.9" y="280.9" font-size="22.8" fill="#ff0000" textLength="70.4" lengthAdjust="spacingAndGlyphs">137.020</text><rect x="1025" y="272" width="10" height="1" fill="#ff0000" shape-rendering="crispEdges"/>
</g>
<text x="1449.8" y="297.5" font-size="20.6" fill="#00ff00" textLength="108" lengthAdjust="spacing" style='font-family:"Liberation Serif", "Noto Serif CJK SC", serif'>多空转折点</text>
<g shape-rendering="crispEdges" fill="#000">
<rect x="1683" y="46" width="2" height="1"/>
<rect x="1683" y="79" width="2" height="1"/>
<rect x="1683" y="112" width="2" height="1"/>
<rect x="1683" y="145" width="2" height="1"/>
<rect x="1683" y="178" width="2" height="1"/>
<rect x="1683" y="211" width="2" height="1"/>
<rect x="1683" y="244" width="2" height="1"/>
<rect x="1683" y="277" width="2" height="1"/>
<rect x="1683" y="310" width="2" height="1"/>
<rect x="1683" y="343" width="2" height="1"/>
<rect x="1683" y="376" width="2" height="1"/>
<rect x="1683" y="409" width="2" height="1"/>
<rect x="1683" y="442" width="2" height="1"/>
<rect x="1683" y="475" width="2" height="1"/>
<rect x="1683" y="508" width="2" height="1"/>
<rect x="1683" y="541" width="2" height="1"/>
<rect x="1683" y="574" width="2" height="1"/>
</g>
<g font-size="9.8" fill="#000">
<text x="1688.6" y="50" textLength="32.4" lengthAdjust="spacingAndGlyphs">142.835</text>
<text x="1688.6" y="83" textLength="32.4" lengthAdjust="spacingAndGlyphs">141.985</text>
<text x="1688.6" y="116" textLength="32.4" lengthAdjust="spacingAndGlyphs">141.135</text>
<text x="1688.6" y="149" textLength="32.4" lengthAdjust="spacingAndGlyphs">140.285</text>
<text x="1688.6" y="182" textLength="32.4" lengthAdjust="spacingAndGlyphs">139.435</text>
<text x="1688.6" y="215" textLength="32.4" lengthAdjust="spacingAndGlyphs">138.585</text>
<text x="1688.6" y="248" textLength="32.4" lengthAdjust="spacingAndGlyphs">137.735</text>
<text x="1688.6" y="281" textLength="32.4" lengthAdjust="spacingAndGlyphs">136.885</text>
<text x="1688.6" y="314" textLength="32.4" lengthAdjust="spacingAndGlyphs">136.035</text>
<text x="1688.6" y="347" textLength="32.4" lengthAdjust="spacingAndGlyphs">135.185</text>
<text x="1688.6" y="380" textLength="32.4" lengthAdjust="spacingAndGlyphs">134.335</text>
<text x="1688.6" y="413" textLength="32.4" lengthAdjust="spacingAndGlyphs">133.485</text>
<text x="1688.6" y="446" textLength="32.4" lengthAdjust="spacingAndGlyphs">132.635</text>
<text x="1688.6" y="479" textLength="32.4" lengthAdjust="spacingAndGlyphs">131.785</text>
<text x="1688.6" y="512" textLength="32.4" lengthAdjust="spacingAndGlyphs">130.935</text>
<text x="1688.6" y="545" textLength="32.4" lengthAdjust="spacingAndGlyphs">130.085</text>
<text x="1688.6" y="578" textLength="32.4" lengthAdjust="spacingAndGlyphs">129.235</text>
</g>
<rect x="1684" y="195" width="41" height="11" fill="#ff0000" shape-rendering="crispEdges"/><text x="1688.6" y="204" font-size="9.8" fill="#fff" textLength="32.4" lengthAdjust="spacingAndGlyphs">138.854</text>
<rect x="1684" y="225" width="41" height="11" fill="#ff0000" shape-rendering="crispEdges"/><text x="1688.6" y="234" font-size="9.8" fill="#fff" textLength="32.4" lengthAdjust="spacingAndGlyphs">138.080</text>
<rect x="1684" y="260" width="41" height="11" fill="#000000" shape-rendering="crispEdges"/><text x="1688.6" y="269" font-size="9.8" fill="#fff" textLength="32.4" lengthAdjust="spacingAndGlyphs">137.190</text>
<rect x="1684" y="266" width="41" height="11" fill="#32cd32" shape-rendering="crispEdges"/><text x="1688.6" y="275" font-size="9.8" fill="#fff" textLength="32.4" lengthAdjust="spacingAndGlyphs">137.020</text>
<rect x="1684" y="300" width="41" height="11" fill="#0000ff" shape-rendering="crispEdges"/><text x="1688.6" y="309" font-size="9.8" fill="#fff" textLength="32.4" lengthAdjust="spacingAndGlyphs">136.132</text>
<rect x="1684" y="329" width="41" height="11" fill="#0000ff" shape-rendering="crispEdges"/><text x="1688.6" y="338" font-size="9.8" fill="#fff" textLength="32.4" lengthAdjust="spacingAndGlyphs">135.391</text>
<polygon points="1440,25 1449,25 1444.5,29.8" fill="#c0c0c0" shape-rendering="crispEdges"/>
<g clip-path="url(#cd)">
<path shape-rendering="crispEdges" fill="#c0c0c0" d="M0 640h1v77h-1z M8 640h1v61h-1z M16 640h1v51h-1z M24 640h1v44h-1z M32 640h1v38h-1z M40 640h1v34h-1z M48 640h1v28h-1z M56 640h1v24h-1z M64 640h1v22h-1z M72 640h1v18h-1z M80 640h1v14h-1z M88 640h1v9h-1z M96 640h1v4h-1z M104 640h1v1h-1z M112 639h1v2h-1z M120 635h1v6h-1z M128 634h1v7h-1z M136 634h1v7h-1z M144 634h1v7h-1z M152 634h1v7h-1z M160 637h1v4h-1z M168 639h1v2h-1z M176 640h1v1h-1z M184 640h1v3h-1z M192 640h1v7h-1z M200 640h1v8h-1z M208 640h1v7h-1z M216 640h1v9h-1z M224 640h1v9h-1z M232 640h1v4h-1z M240 640h1v4h-1z M248 640h1v5h-1z M256 640h1v6h-1z M264 640h1v7h-1z M272 640h1v12h-1z M280 640h1v14h-1z M288 640h1v14h-1z M296 640h1v12h-1z M304 640h1v12h-1z M312 640h1v15h-1z M320 640h1v18h-1z M328 640h1v19h-1z M336 640h1v22h-1z M344 640h1v26h-1z M352 640h1v25h-1z M360 640h1v20h-1z M368 640h1v19h-1z M376 640h1v18h-1z M384 640h1v18h-1z M392 640h1v17h-1z M400 640h1v16h-1z M408 640h1v10h-1z M416 640h1v9h-1z M424 640h1v6h-1z M432 640h1v3h-1z M440 640h1v1h-1z M448 636h1v5h-1z M456 625h1v16h-1z M464 616h1v25h-1z M472 608h1v33h-1z M480 599h1v42h-1z M488 591h1v50h-1z M496 589h1v52h-1z M504 591h1v50h-1z M512 595h1v46h-1z M520 603h1v38h-1z M528 610h1v31h-1z M536 616h1v25h-1z M544 617h1v24h-1z M552 619h1v22h-1z M560 624h1v17h-1z M568 631h1v10h-1z M576 639h1v2h-1z M584 640h1v5h-1z M592 640h1v5h-1z M600 640h1v7h-1z M608 640h1v9h-1z M616 640h1v10h-1z M624 640h1v12h-1z M632 640h1v14h-1z M640 640h1v15h-1z M648 640h1v11h-1z M656 640h1v10h-1z M664 640h1v8h-1z M672 640h1v5h-1z M680 640h1v3h-1z M688 640h1v1h-1z M696 640h1v1h-1z M704 636h1v5h-1z M712 634h1v7h-1z M720 632h1v9h-1z M728 632h1v9h-1z M736 632h1v9h-1z M744 632h1v9h-1z M752 632h1v9h-1z M760 633h1v8h-1z M768 634h1v7h-1z M776 634h1v7h-1z M784 632h1v9h-1z M792 629h1v12h-1z M800 626h1v15h-1z M808 625h1v16h-1z M816 626h1v15h-1z M824 626h1v15h-1z M832 628h1v13h-1z M840 627h1v14h-1z M848 625h1v16h-1z M856 622h1v19h-1z M864 617h1v24h-1z M872 613h1v28h-1z M880 610h1v31h-1z M888 609h1v32h-1z M896 608h1v33h-1z M904 607h1v34h-1z M912 608h1v33h-1z M920 609h1v32h-1z M928 609h1v32h-1z M936 608h1v33h-1z M944 607h1v34h-1z M952 606h1v35h-1z M960 606h1v35h-1z M968 606h1v35h-1z M976 609h1v32h-1z M984 609h1v32h-1z M992 611h1v30h-1z M1000 612h1v29h-1z M1008 615h1v26h-1z M1016 618h1v23h-1z M1024 621h1v20h-1z M1032 620h1v21h-1z M1040 619h1v22h-1z M1048 616h1v25h-1z M1056 615h1v26h-1z M1064 614h1v27h-1z M1072 611h1v30h-1z M1080 609h1v32h-1z M1088 608h1v33h-1z M1096 610h1v31h-1z M1104 611h1v30h-1z M1112 613h1v28h-1z M1120 617h1v24h-1z M1128 627h1v14h-1z M1136 633h1v8h-1z M1144 640h1v1h-1z M1152 640h1v11h-1z M1160 640h1v17h-1z M1168 640h1v22h-1z M1176 640h1v25h-1z M1184 640h1v27h-1z M1192 640h1v28h-1z M1200 640h1v31h-1z M1208 640h1v33h-1z M1216 640h1v36h-1z M1224 640h1v40h-1z M1232 640h1v42h-1z M1240 640h1v41h-1z M1248 640h1v41h-1z M1256 640h1v38h-1z M1264 640h1v35h-1z M1272 640h1v30h-1z M1280 640h1v26h-1z M1288 640h1v23h-1z M1296 640h1v19h-1z M1304 640h1v16h-1z M1312 640h1v11h-1z M1320 640h1v10h-1z M1328 640h1v7h-1z M1336 640h1v4h-1z M1344 640h1v1h-1z M1352 638h1v3h-1z M1360 636h1v5h-1z M1368 638h1v3h-1z M1376 638h1v3h-1z M1384 639h1v2h-1z M1392 640h1v1h-1z M1400 640h1v1h-1z M1408 640h1v1h-1z M1416 640h1v1h-1z M1424 640h1v1h-1z M1432 638h1v3h-1z"/>
<path shape-rendering="crispEdges" fill="#ff0000" d="M42 704h1v2h-1z M526 599h3v1h-3z M532 599h3v1h-3z M538 599h3v1h-3z M522 600h1v1h-1z M544 600h3v1h-3z M520 601h2v1h-2z M550 602h3v1h-3z M515 603h2v1h-2z M514 604h1v1h-1z M556 604h1v1h-1z M557 605h2v1h-2z M510 606h1v1h-1z M508 607h2v1h-2z M562 607h1v1h-1z M940 607h3v1h-3z M946 607h3v1h-3z M952 607h3v1h-3z M958 607h3v1h-3z M964 607h3v1h-3z M970 607h3v1h-3z M976 607h3v1h-3z M982 607h3v1h-3z M988 607h3v1h-3z M563 608h2v1h-2z M934 608h3v1h-3z M994 608h3v1h-3z M1000 608h3v1h-3z M1006 608h3v1h-3z M1012 608h1v1h-1z M928 609h3v1h-3z M1013 609h2v1h-2z M503 610h2v1h-2z M917 610h2v1h-2z M922 610h3v1h-3z M1018 610h3v1h-3z M502 611h1v1h-1z M568 611h1v1h-1z M911 611h2v1h-2z M916 611h1v1h-1z M1024 611h1v1h-1z M1102 611h3v1h-3z M1108 611h3v1h-3z M1114 611h3v1h-3z M1120 611h3v1h-3z M569 612h1v1h-1z M910 612h1v1h-1z M1025 612h2v1h-2z M1030 612h1v1h-1z M1096 612h3v1h-3z M1126 612h3v1h-3z M570 613h1v1h-1z M904 613h3v1h-3z M1031 613h2v1h-2z M1036 613h2v1h-2z M1090 613h3v1h-3z M1132 613h3v1h-3z M498 614h1v1h-1z M900 614h1v1h-1z M1038 614h1v1h-1z M1042 614h2v1h-2z M1084 614h3v1h-3z M496 615h2v1h-2z M574 615h1v1h-1z M898 615h2v1h-2z M1044 615h1v1h-1z M1048 615h3v1h-3z M1054 615h3v1h-3z M1060 615h3v1h-3z M1073 615h2v1h-2z M1078 615h3v1h-3z M1138 615h1v1h-1z M575 616h1v1h-1z M892 616h3v1h-3z M1066 616h3v1h-3z M1072 616h1v1h-1z M1139 616h2v1h-2z M576 617h1v1h-1z M886 618h3v1h-3z M1144 618h1v1h-1z M491 619h2v1h-2z M882 619h1v1h-1z M1145 619h2v1h-2z M490 620h1v1h-1z M580 620h2v1h-2z M880 620h2v1h-2z M582 621h1v1h-1z M875 621h2v1h-2z M1150 621h1v1h-1z M874 622h1v1h-1z M1151 622h2v1h-2z M486 623h1v1h-1z M586 623h1v1h-1z M868 623h3v1h-3z M485 624h1v1h-1z M587 624h2v1h-2z M862 624h3v1h-3z M484 625h1v1h-1z M856 625h3v1h-3z M1156 625h2v1h-2z M592 626h1v1h-1z M844 626h3v1h-3z M850 626h3v1h-3z M1158 626h1v1h-1z M593 627h1v1h-1z M832 627h3v1h-3z M838 627h3v1h-3z M480 628h1v1h-1z M594 628h1v1h-1z M820 628h3v1h-3z M826 628h3v1h-3z M479 629h1v1h-1z M808 629h3v1h-3z M814 629h3v1h-3z M1162 629h1v1h-1z M478 630h1v1h-1z M598 630h2v1h-2z M797 630h2v1h-2z M802 630h3v1h-3z M1163 630h1v1h-1z M600 631h1v1h-1z M790 631h3v1h-3z M796 631h1v1h-1z M1164 631h1v1h-1z M766 632h3v1h-3z M772 632h3v1h-3z M778 632h3v1h-3z M784 632h3v1h-3z M473 633h2v1h-2z M604 633h2v1h-2z M754 633h3v1h-3z M760 633h3v1h-3z M472 634h1v1h-1z M606 634h1v1h-1z M748 634h3v1h-3z M1168 634h1v1h-1z M162 635h1v1h-1z M166 635h3v1h-3z M172 635h3v1h-3z M744 635h1v1h-1z M1169 635h2v1h-2z M155 636h2v1h-2z M160 636h2v1h-2z M178 636h3v1h-3z M610 636h2v1h-2z M742 636h2v1h-2z M150 637h1v1h-1z M154 637h1v1h-1z M184 637h3v1h-3z M190 637h2v1h-2z M467 637h2v1h-2z M612 637h1v1h-1z M738 637h1v1h-1z M148 638h2v1h-2z M192 638h1v1h-1z M466 638h1v1h-1z M616 638h1v1h-1z M730 638h3v1h-3z M736 638h2v1h-2z M1174 638h1v1h-1z M196 639h3v1h-3z M617 639h2v1h-2z M724 639h3v1h-3z M1175 639h1v1h-1z M1396 639h3v1h-3z M1402 639h3v1h-3z M1408 639h3v1h-3z M1414 639h3v1h-3z M1420 639h3v1h-3z M1426 639h3v1h-3z M1432 639h1v1h-1z M143 640h2v1h-2z M202 640h3v1h-3z M622 640h2v1h-2z M1176 640h1v1h-1z M1390 640h3v1h-3z M142 641h1v1h-1z M208 641h3v1h-3z M461 641h2v1h-2z M624 641h1v1h-1z M719 641h2v1h-2z M1384 641h3v1h-3z M137 642h2v1h-2z M214 642h2v1h-2z M460 642h1v1h-1z M718 642h1v1h-1z M1378 642h3v1h-3z M136 643h1v1h-1z M216 643h1v1h-1z M628 643h1v1h-1z M712 643h3v1h-3z M1180 643h1v1h-1z M1372 643h3v1h-3z M131 644h2v1h-2z M220 644h3v1h-3z M456 644h1v1h-1z M629 644h2v1h-2z M706 644h3v1h-3z M1181 644h2v1h-2z M1367 644h2v1h-2z M130 645h1v1h-1z M226 645h3v1h-3z M454 645h2v1h-2z M1366 645h1v1h-1z M126 646h1v1h-1z M232 646h3v1h-3z M238 646h3v1h-3z M244 646h3v1h-3z M250 646h3v1h-3z M256 646h1v1h-1z M634 646h1v1h-1z M700 646h3v1h-3z M1360 646h3v1h-3z M124 647h2v1h-2z M257 647h2v1h-2z M262 647h3v1h-3z M268 647h3v1h-3z M274 647h3v1h-3z M449 647h2v1h-2z M635 647h2v1h-2z M1186 647h1v1h-1z M280 648h3v1h-3z M448 648h1v1h-1z M640 648h2v1h-2z M694 648h3v1h-3z M1187 648h1v1h-1z M1354 648h3v1h-3z M120 649h1v1h-1z M286 649h3v1h-3z M292 649h3v1h-3z M298 649h3v1h-3z M443 649h2v1h-2z M642 649h1v1h-1z M646 649h1v1h-1z M684 649h1v1h-1z M688 649h3v1h-3z M1188 649h1v1h-1z M118 650h2v1h-2z M304 650h3v1h-3z M310 650h1v1h-1z M442 650h1v1h-1z M647 650h2v1h-2z M652 650h1v1h-1z M676 650h3v1h-3z M682 650h2v1h-2z M1350 650h1v1h-1z M311 651h2v1h-2z M436 651h3v1h-3z M653 651h2v1h-2z M658 651h3v1h-3z M664 651h3v1h-3z M670 651h3v1h-3z M1348 651h2v1h-2z M114 652h1v1h-1z M316 652h2v1h-2z M431 652h2v1h-2z M1192 652h2v1h-2z M112 653h2v1h-2z M318 653h1v1h-1z M430 653h1v1h-1z M1194 653h1v1h-1z M1344 653h1v1h-1z M322 654h3v1h-3z M424 654h3v1h-3z M1342 654h2v1h-2z M107 655h2v1h-2z M328 655h3v1h-3z M420 655h1v1h-1z M1198 655h1v1h-1z M106 656h1v1h-1z M334 656h3v1h-3z M418 656h2v1h-2z M1199 656h1v1h-1z M1336 656h3v1h-3z M102 657h1v1h-1z M340 657h3v1h-3z M346 657h3v1h-3z M412 657h3v1h-3z M1200 657h1v1h-1z M1332 657h1v1h-1z M100 658h2v1h-2z M352 658h3v1h-3z M408 658h1v1h-1z M1330 658h2v1h-2z M358 659h3v1h-3z M364 659h1v1h-1z M406 659h2v1h-2z M1204 659h1v1h-1z M96 660h1v1h-1z M365 660h2v1h-2z M370 660h3v1h-3z M400 660h3v1h-3z M1205 660h2v1h-2z M1325 660h2v1h-2z M94 661h2v1h-2z M376 661h3v1h-3z M382 661h3v1h-3z M388 661h3v1h-3z M394 661h3v1h-3z M1324 661h1v1h-1z M1210 663h2v1h-2z M1319 663h2v1h-2z M90 664h1v1h-1z M1212 664h1v1h-1z M1318 664h1v1h-1z M88 665h2v1h-2z M1313 665h2v1h-2z M1216 666h2v1h-2z M1312 666h1v1h-1z M1218 667h1v1h-1z M1307 667h2v1h-2z M84 668h1v1h-1z M1222 668h2v1h-2z M1306 668h1v1h-1z M83 669h1v1h-1z M1224 669h1v1h-1z M82 670h1v1h-1z M1228 670h2v1h-2z M1301 670h2v1h-2z M1230 671h1v1h-1z M1300 671h1v1h-1z M78 672h1v1h-1z M1234 672h1v1h-1z M76 673h2v1h-2z M1235 673h2v1h-2z M1294 673h3v1h-3z M1240 674h1v1h-1z M1290 674h1v1h-1z M1241 675h2v1h-2z M1288 675h2v1h-2z M71 676h2v1h-2z M1246 676h3v1h-3z M1252 676h1v1h-1z M1282 676h3v1h-3z M70 677h1v1h-1z M1253 677h2v1h-2z M1258 677h3v1h-3z M1264 677h1v1h-1z M1276 677h3v1h-3z M1265 678h2v1h-2z M1270 678h3v1h-3z M66 680h1v1h-1z M65 681h1v1h-1z M64 682h1v1h-1z M60 686h1v1h-1z M59 687h1v1h-1z M58 688h1v1h-1z M54 692h1v1h-1z M53 693h1v1h-1z M52 694h1v1h-1z M48 698h1v1h-1z M47 699h1v1h-1z M46 700h1v1h-1z M41 706h1v1h-1z M37 710h1v1h-1z M36 711h1v1h-1z M35 712h1v1h-1z M31 716h1v1h-1z M30 717h1v1h-1z M29 718h1v1h-1z M25 722h1v1h-1z M24 723h1v1h-1z M23 724h1v1h-1z M19 727h1v1h-1z M18 728h1v1h-1z M17 729h1v1h-1z M13 732h1v1h-1z M11 733h2v1h-2z M7 735h1v1h-1z M5 736h2v1h-2z M1 738h1v1h-1z M0 739h1v1h-1z"/>
</g>
<g font-size="9.8" fill="#000">
<text x="1685.3" y="590" textLength="29.1" lengthAdjust="spacingAndGlyphs">1.8802</text>
<text x="1685.9" y="644" textLength="18.1" lengthAdjust="spacingAndGlyphs">0.00</text>
<text x="1685.9" y="745.9" textLength="31.2" lengthAdjust="spacingAndGlyphs">-3.4286</text>
<rect x="1683" y="640" width="1" height="1" fill="#000"/>
</g>
<g clip-path="url(#cr)">
<g shape-rendering="crispEdges" stroke="#c0c0c0" stroke-width="1" stroke-dasharray="3 3">
<line x1="0" y1="787.5" x2="1682" y2="787.5"/>
<line x1="0" y1="838.5" x2="1682" y2="838.5"/>
<line x1="0" y1="899.5" x2="1682" y2="899.5"/>
</g>
<path shape-rendering="crispEdges" fill="#1e90ff" d="M161 841h1v2h-1z M162 843h1v2h-1z M163 845h1v2h-1z M165 848h1v2h-1z M166 850h1v2h-1z M167 852h1v2h-1z M224 846h1v2h-1z M225 843h1v3h-1z M226 841h1v2h-1z M227 838h1v3h-1z M228 835h1v3h-1z M229 832h1v3h-1z M230 830h1v2h-1z M231 827h1v3h-1z M232 825h1v2h-1z M233 826h1v2h-1z M234 828h1v2h-1z M235 830h1v2h-1z M236 832h1v2h-1z M237 834h1v2h-1z M238 836h1v2h-1z M239 838h1v2h-1z M265 849h1v2h-1z M266 851h1v2h-1z M267 853h1v2h-1z M269 856h1v2h-1z M270 858h1v2h-1z M271 860h1v2h-1z M306 845h1v2h-1z M310 850h1v2h-1z M332 856h1v2h-1z M345 863h1v2h-1z M346 861h1v2h-1z M347 859h1v2h-1z M348 857h1v2h-1z M349 855h1v2h-1z M350 853h1v2h-1z M351 851h1v2h-1z M352 849h1v2h-1z M353 847h1v2h-1z M356 843h1v2h-1z M359 839h1v2h-1z M401 842h1v2h-1z M404 838h1v2h-1z M407 834h1v2h-1z M441 827h1v2h-1z M444 823h1v2h-1z M447 819h1v2h-1z M448 817h1v2h-1z M449 815h1v2h-1z M450 813h1v2h-1z M451 811h1v2h-1z M452 809h1v2h-1z M453 807h1v2h-1z M454 805h1v2h-1z M455 803h1v2h-1z M456 801h1v2h-1z M488 790h1v2h-1z M489 792h1v2h-1z M490 794h1v2h-1z M491 796h1v2h-1z M492 798h1v2h-1z M493 800h1v2h-1z M494 802h1v2h-1z M495 804h1v2h-1z M496 806h1v2h-1z M497 808h1v2h-1z M500 812h1v2h-1z M503 816h1v2h-1z M506 820h1v2h-1z M510 825h1v2h-1z M513 829h1v2h-1z M515 832h1v2h-1z M517 835h1v2h-1z M519 838h1v2h-1z M537 839h1v2h-1z M539 836h1v2h-1z M541 833h1v2h-1z M543 830h1v2h-1z M556 838h1v2h-1z M585 855h1v2h-1z M586 853h1v2h-1z M587 851h1v2h-1z M588 849h1v2h-1z M589 847h1v2h-1z M590 845h1v2h-1z M591 843h1v2h-1z M641 848h1v2h-1z M642 846h1v2h-1z M644 843h1v2h-1z M646 840h1v2h-1z M647 838h1v2h-1z M692 829h1v2h-1z M777 831h1v2h-1z M778 829h1v2h-1z M779 827h1v2h-1z M780 825h1v2h-1z M781 823h1v2h-1z M782 821h1v2h-1z M783 819h1v2h-1z M849 814h1v2h-1z M852 810h1v2h-1z M855 806h1v2h-1z M858 802h1v2h-1z M862 797h1v2h-1z M881 795h1v2h-1z M884 799h1v2h-1z M887 803h1v2h-1z M906 802h1v2h-1z M910 807h1v2h-1z M969 803h1v2h-1z M970 805h1v2h-1z M971 807h1v2h-1z M972 809h1v2h-1z M973 811h1v2h-1z M974 813h1v2h-1z M975 815h1v2h-1z M976 817h1v2h-1z M1000 813h1v2h-1z M1001 815h1v2h-1z M1002 817h1v2h-1z M1003 819h1v3h-1z M1004 822h1v2h-1z M1005 824h1v3h-1z M1006 827h1v2h-1z M1007 829h1v2h-1z M1008 831h1v2h-1z M1025 830h1v2h-1z M1026 828h1v2h-1z M1027 826h1v2h-1z M1028 824h1v2h-1z M1029 822h1v2h-1z M1030 820h1v2h-1z M1031 818h1v2h-1z M1032 816h1v2h-1z M1088 802h1v2h-1z M1089 804h1v2h-1z M1090 806h1v3h-1z M1091 809h1v2h-1z M1092 811h1v3h-1z M1093 814h1v2h-1z M1094 816h1v3h-1z M1095 819h1v2h-1z M1096 821h1v2h-1z M1113 823h1v2h-1z M1114 825h1v2h-1z M1115 827h1v2h-1z M1117 830h1v2h-1z M1118 832h1v2h-1z M1119 834h1v2h-1z M1120 836h1v2h-1z M1121 838h1v3h-1z M1122 841h1v4h-1z M1123 845h1v3h-1z M1124 848h1v3h-1z M1125 851h1v3h-1z M1126 854h1v4h-1z M1127 858h1v3h-1z M1128 861h1v2h-1z M1132 857h1v2h-1z M1137 854h1v2h-1z M1138 856h1v2h-1z M1139 858h1v2h-1z M1140 860h1v2h-1z M1141 862h1v2h-1z M1142 864h1v2h-1z M1143 866h1v2h-1z M1233 876h1v2h-1z M1236 872h1v2h-1z M1239 868h1v2h-1z M1257 860h1v2h-1z M1258 858h1v2h-1z M1259 856h1v2h-1z M1260 854h1v2h-1z M1261 852h1v2h-1z M1262 850h1v2h-1z M1263 848h1v2h-1z M1305 835h1v2h-1z M1307 832h1v2h-1z M1309 829h1v2h-1z M1311 826h1v2h-1z M1312 825h1v2h-1z M1313 827h1v2h-1z M1314 829h1v2h-1z M1315 831h1v2h-1z M1316 833h1v2h-1z M1317 835h1v2h-1z M1318 837h1v2h-1z M1319 839h1v2h-1z M1320 841h1v2h-1z M1322 839h1v2h-1z M1326 834h1v2h-1z M1360 825h1v2h-1z M1361 827h1v2h-1z M1362 829h1v2h-1z M1363 831h1v2h-1z M1364 833h1v2h-1z M1365 835h1v2h-1z M1366 837h1v2h-1z M1367 839h1v2h-1z M1368 841h1v2h-1z M1378 839h1v2h-1z M1382 844h1v2h-1z M1418 834h1v2h-1z M1422 829h1v2h-1z M486 790h2v1h-2z M482 791h4v1h-4z M480 792h2v1h-2z M478 793h2v1h-2z M477 794h1v1h-1z M868 794h13v1h-13z M476 795h1v1h-1z M864 795h4v1h-4z M474 796h2v1h-2z M863 796h1v1h-1z M951 796h2v1h-2z M473 797h1v1h-1z M882 797h1v1h-1z M948 797h3v1h-3z M953 797h1v1h-1z M471 798h2v1h-2z M883 798h1v1h-1z M946 798h2v1h-2z M954 798h1v1h-1z M468 799h3v1h-3z M861 799h1v1h-1z M943 799h3v1h-3z M955 799h1v1h-1z M466 800h2v1h-2z M860 800h1v1h-1z M900 800h5v1h-5z M941 800h2v1h-2z M956 800h1v1h-1z M1078 800h4v1h-4z M457 801h9v1h-9z M859 801h1v1h-1z M885 801h1v1h-1z M895 801h5v1h-5z M905 801h1v1h-1z M939 801h2v1h-2z M957 801h1v1h-1z M1074 801h4v1h-4z M1082 801h4v1h-4z M886 802h1v1h-1z M893 802h2v1h-2z M937 802h2v1h-2z M958 802h1v1h-1z M966 802h3v1h-3z M1072 802h2v1h-2z M1086 802h2v1h-2z M891 803h2v1h-2z M935 803h2v1h-2z M959 803h1v1h-1z M962 803h4v1h-4z M1070 803h2v1h-2z M857 804h1v1h-1z M889 804h2v1h-2z M907 804h1v1h-1z M933 804h2v1h-2z M960 804h2v1h-2z M1069 804h1v1h-1z M856 805h1v1h-1z M888 805h1v1h-1z M908 805h1v1h-1z M931 805h2v1h-2z M1068 805h1v1h-1z M909 806h1v1h-1z M929 806h2v1h-2z M1066 806h2v1h-2z M928 807h1v1h-1z M1065 807h1v1h-1z M854 808h1v1h-1z M926 808h2v1h-2z M1048 808h2v1h-2z M1062 808h3v1h-3z M853 809h1v1h-1z M911 809h1v1h-1z M925 809h1v1h-1z M1047 809h1v1h-1z M1050 809h4v1h-4z M1058 809h4v1h-4z M498 810h1v1h-1z M912 810h2v1h-2z M924 810h1v1h-1z M1046 810h1v1h-1z M1054 810h4v1h-4z M499 811h1v1h-1z M799 811h2v1h-2z M914 811h2v1h-2z M922 811h2v1h-2z M1045 811h1v1h-1z M797 812h2v1h-2z M801 812h1v1h-1z M851 812h1v1h-1z M916 812h3v1h-3z M921 812h1v1h-1z M984 812h1v1h-1z M1044 812h1v1h-1z M795 813h2v1h-2z M802 813h1v1h-1z M850 813h1v1h-1z M919 813h2v1h-2z M982 813h2v1h-2z M985 813h1v1h-1z M1043 813h1v1h-1z M501 814h1v1h-1z M793 814h2v1h-2z M803 814h1v1h-1z M981 814h1v1h-1z M986 814h1v1h-1z M999 814h1v1h-1z M1042 814h1v1h-1z M502 815h1v1h-1z M791 815h2v1h-2z M804 815h1v1h-1z M980 815h1v1h-1z M987 815h1v1h-1z M998 815h1v1h-1z M1041 815h1v1h-1z M788 816h3v1h-3z M805 816h1v1h-1z M848 816h1v1h-1z M978 816h2v1h-2z M988 816h1v1h-1z M996 816h2v1h-2z M1033 816h8v1h-8z M786 817h2v1h-2z M806 817h1v1h-1z M847 817h1v1h-1z M977 817h1v1h-1z M989 817h1v1h-1z M995 817h1v1h-1z M1104 817h1v1h-1z M504 818h1v1h-1z M784 818h2v1h-2z M807 818h1v1h-1z M846 818h1v1h-1z M990 818h1v1h-1z M994 818h1v1h-1z M1102 818h2v1h-2z M1105 818h2v1h-2z M505 819h1v1h-1z M808 819h1v1h-1z M844 819h2v1h-2z M991 819h1v1h-1z M993 819h1v1h-1z M1100 819h2v1h-2z M1107 819h1v1h-1z M809 820h1v1h-1z M843 820h1v1h-1z M992 820h1v1h-1z M1099 820h1v1h-1z M1108 820h2v1h-2z M446 821h1v1h-1z M810 821h1v1h-1z M842 821h1v1h-1z M1097 821h2v1h-2z M1110 821h2v1h-2z M445 822h1v1h-1z M507 822h1v1h-1z M703 822h5v1h-5z M811 822h1v1h-1z M841 822h1v1h-1z M1112 822h1v1h-1z M508 823h1v1h-1z M700 823h3v1h-3z M708 823h6v1h-6z M812 823h1v1h-1z M838 823h3v1h-3z M509 824h1v1h-1z M698 824h2v1h-2z M714 824h2v1h-2z M813 824h1v1h-1z M834 824h4v1h-4z M1343 824h5v1h-5z M443 825h1v1h-1z M696 825h2v1h-2z M716 825h3v1h-3z M814 825h1v1h-1z M828 825h6v1h-6z M1341 825h2v1h-2z M1348 825h12v1h-12z M442 826h1v1h-1z M695 826h1v1h-1z M719 826h10v1h-10z M815 826h1v1h-1z M820 826h8v1h-8z M1339 826h2v1h-2z M119 827h2v1h-2z M511 827h1v1h-1z M694 827h1v1h-1z M729 827h2v1h-2z M816 827h4v1h-4z M1337 827h2v1h-2z M1424 827h2v1h-2z M117 828h2v1h-2z M121 828h2v1h-2z M512 828h1v1h-1z M693 828h1v1h-1z M731 828h1v1h-1z M1310 828h1v1h-1z M1335 828h2v1h-2z M1423 828h1v1h-1z M1426 828h2v1h-2z M88 829h18v1h-18z M115 829h2v1h-2z M123 829h2v1h-2z M436 829h5v1h-5z M544 829h1v1h-1z M732 829h2v1h-2z M1116 829h1v1h-1z M1333 829h2v1h-2z M1428 829h3v1h-3z M86 830h2v1h-2z M106 830h4v1h-4z M113 830h2v1h-2z M125 830h2v1h-2z M431 830h5v1h-5z M545 830h2v1h-2z M734 830h2v1h-2z M740 830h6v1h-6z M1331 830h2v1h-2z M1431 830h2v1h-2z M85 831h1v1h-1z M110 831h3v1h-3z M127 831h5v1h-5z M428 831h3v1h-3z M514 831h1v1h-1z M547 831h1v1h-1z M691 831h1v1h-1z M736 831h4v1h-4z M746 831h2v1h-2z M758 831h3v1h-3z M1012 831h8v1h-8z M1308 831h1v1h-1z M1329 831h2v1h-2z M1421 831h1v1h-1z M84 832h1v1h-1z M132 832h5v1h-5z M426 832h2v1h-2z M542 832h1v1h-1z M548 832h2v1h-2z M690 832h1v1h-1z M748 832h3v1h-3z M754 832h4v1h-4z M761 832h1v1h-1z M1009 832h3v1h-3z M1020 832h5v1h-5z M1328 832h1v1h-1z M1420 832h1v1h-1z M82 833h2v1h-2z M137 833h2v1h-2z M408 833h2v1h-2z M423 833h3v1h-3z M550 833h2v1h-2z M676 833h8v1h-8z M689 833h1v1h-1z M751 833h3v1h-3z M762 833h2v1h-2z M775 833h2v1h-2z M1327 833h1v1h-1z M1419 833h1v1h-1z M8 834h2v1h-2z M81 834h1v1h-1z M139 834h2v1h-2z M410 834h2v1h-2z M420 834h3v1h-3z M516 834h1v1h-1z M552 834h1v1h-1z M668 834h8v1h-8z M684 834h5v1h-5z M764 834h1v1h-1z M773 834h2v1h-2z M1306 834h1v1h-1z M7 835h1v1h-1z M10 835h2v1h-2z M79 835h2v1h-2z M141 835h2v1h-2z M148 835h5v1h-5z M412 835h3v1h-3z M418 835h2v1h-2z M540 835h1v1h-1z M553 835h1v1h-1z M662 835h6v1h-6z M765 835h1v1h-1z M771 835h2v1h-2z M6 836h1v1h-1z M12 836h3v1h-3z M77 836h2v1h-2z M143 836h5v1h-5z M153 836h2v1h-2z M406 836h1v1h-1z M415 836h3v1h-3z M554 836h1v1h-1z M658 836h4v1h-4z M766 836h2v1h-2z M769 836h2v1h-2z M1325 836h1v1h-1z M1417 836h1v1h-1z M5 837h1v1h-1z M15 837h3v1h-3z M48 837h1v1h-1z M75 837h2v1h-2z M155 837h1v1h-1z M405 837h1v1h-1z M518 837h1v1h-1z M555 837h1v1h-1z M648 837h10v1h-10z M768 837h1v1h-1z M1300 837h5v1h-5z M1324 837h1v1h-1z M1376 837h1v1h-1z M1414 837h3v1h-3z M4 838h1v1h-1z M18 838h4v1h-4z M47 838h1v1h-1z M49 838h1v1h-1z M73 838h2v1h-2z M156 838h2v1h-2z M360 838h1v1h-1z M538 838h1v1h-1z M1296 838h4v1h-4z M1323 838h1v1h-1z M1374 838h2v1h-2z M1377 838h1v1h-1z M1410 838h4v1h-4z M3 839h1v1h-1z M22 839h6v1h-6z M46 839h1v1h-1z M50 839h2v1h-2z M71 839h2v1h-2z M158 839h2v1h-2z M361 839h2v1h-2z M1294 839h2v1h-2z M1372 839h2v1h-2z M1407 839h3v1h-3z M2 840h1v1h-1z M28 840h5v1h-5z M44 840h2v1h-2z M52 840h1v1h-1z M69 840h2v1h-2z M160 840h1v1h-1z M240 840h1v1h-1z M363 840h1v1h-1z M403 840h1v1h-1z M520 840h2v1h-2z M557 840h1v1h-1z M1292 840h2v1h-2z M1371 840h1v1h-1z M1405 840h2v1h-2z M1 841h1v1h-1z M33 841h2v1h-2z M43 841h1v1h-1z M53 841h1v1h-1z M67 841h2v1h-2z M241 841h2v1h-2z M358 841h1v1h-1z M364 841h2v1h-2z M402 841h1v1h-1z M522 841h4v1h-4z M532 841h5v1h-5z M558 841h1v1h-1z M1279 841h3v1h-3z M1291 841h1v1h-1z M1321 841h1v1h-1z M1369 841h2v1h-2z M1379 841h1v1h-1z M1403 841h2v1h-2z M0 842h1v1h-1z M35 842h2v1h-2z M42 842h1v1h-1z M54 842h2v1h-2z M65 842h2v1h-2z M243 842h1v1h-1z M295 842h5v1h-5z M357 842h1v1h-1z M366 842h2v1h-2z M526 842h6v1h-6z M559 842h1v1h-1z M592 842h2v1h-2z M645 842h1v1h-1z M1276 842h3v1h-3z M1282 842h4v1h-4z M1289 842h2v1h-2z M1380 842h1v1h-1z M1401 842h2v1h-2z M37 843h2v1h-2z M41 843h1v1h-1z M56 843h9v1h-9z M244 843h2v1h-2z M293 843h2v1h-2z M300 843h5v1h-5z M368 843h4v1h-4z M560 843h1v1h-1z M594 843h2v1h-2z M1274 843h2v1h-2z M1286 843h3v1h-3z M1381 843h1v1h-1z M1391 843h10v1h-10z M39 844h2v1h-2z M207 844h2v1h-2z M246 844h2v1h-2z M291 844h2v1h-2z M305 844h1v1h-1z M372 844h5v1h-5z M396 844h5v1h-5z M561 844h1v1h-1z M596 844h3v1h-3z M1271 844h3v1h-3z M1389 844h2v1h-2z M205 845h2v1h-2z M209 845h2v1h-2z M248 845h4v1h-4z M289 845h2v1h-2z M355 845h1v1h-1z M377 845h2v1h-2z M391 845h5v1h-5z M562 845h1v1h-1z M599 845h3v1h-3z M615 845h2v1h-2z M643 845h1v1h-1z M1268 845h3v1h-3z M1387 845h2v1h-2z M203 846h2v1h-2z M211 846h1v1h-1z M252 846h6v1h-6z M288 846h1v1h-1z M354 846h1v1h-1z M379 846h1v1h-1z M389 846h2v1h-2z M563 846h1v1h-1z M602 846h2v1h-2z M612 846h3v1h-3z M617 846h1v1h-1z M1266 846h2v1h-2z M1383 846h1v1h-1z M1385 846h2v1h-2z M164 847h1v1h-1z M201 847h2v1h-2z M212 847h2v1h-2z M222 847h2v1h-2z M258 847h4v1h-4z M287 847h1v1h-1z M307 847h1v1h-1z M380 847h2v1h-2z M387 847h2v1h-2z M564 847h1v1h-1z M604 847h3v1h-3z M610 847h2v1h-2z M618 847h1v1h-1z M1264 847h2v1h-2z M1384 847h1v1h-1z M180 848h6v1h-6z M199 848h2v1h-2z M214 848h2v1h-2z M218 848h4v1h-4z M262 848h3v1h-3z M286 848h1v1h-1z M308 848h1v1h-1z M382 848h2v1h-2z M385 848h2v1h-2z M565 848h1v1h-1z M607 848h3v1h-3z M619 848h1v1h-1z M176 849h4v1h-4z M186 849h2v1h-2z M196 849h3v1h-3z M216 849h2v1h-2z M285 849h1v1h-1z M309 849h1v1h-1z M384 849h1v1h-1z M566 849h1v1h-1z M620 849h2v1h-2z M174 850h2v1h-2z M188 850h3v1h-3z M194 850h2v1h-2z M284 850h1v1h-1z M567 850h1v1h-1z M622 850h1v1h-1z M636 850h5v1h-5z M172 851h2v1h-2z M191 851h3v1h-3z M283 851h1v1h-1z M568 851h1v1h-1z M623 851h1v1h-1z M628 851h8v1h-8z M171 852h1v1h-1z M282 852h1v1h-1z M311 852h1v1h-1z M328 852h1v1h-1z M569 852h2v1h-2z M624 852h4v1h-4z M169 853h2v1h-2z M281 853h1v1h-1z M312 853h1v1h-1z M326 853h2v1h-2z M329 853h1v1h-1z M571 853h2v1h-2z M1136 853h1v1h-1z M168 854h1v1h-1z M280 854h1v1h-1z M313 854h2v1h-2z M325 854h1v1h-1z M330 854h1v1h-1z M573 854h2v1h-2z M1135 854h1v1h-1z M268 855h1v1h-1z M279 855h1v1h-1z M315 855h1v1h-1z M324 855h1v1h-1z M331 855h1v1h-1z M575 855h3v1h-3z M1134 855h1v1h-1z M278 856h1v1h-1z M316 856h2v1h-2z M322 856h2v1h-2z M578 856h4v1h-4z M1133 856h1v1h-1z M277 857h1v1h-1z M318 857h2v1h-2z M321 857h1v1h-1z M582 857h3v1h-3z M276 858h1v1h-1z M320 858h1v1h-1z M333 858h1v1h-1z M275 859h1v1h-1z M334 859h1v1h-1z M1131 859h1v1h-1z M274 860h1v1h-1z M335 860h1v1h-1z M1130 860h1v1h-1z M273 861h1v1h-1z M336 861h1v1h-1z M1129 861h1v1h-1z M272 862h1v1h-1z M337 862h2v1h-2z M1184 862h4v1h-4z M1256 862h1v1h-1z M339 863h2v1h-2z M1182 863h2v1h-2z M1188 863h5v1h-5z M1254 863h2v1h-2z M341 864h2v1h-2z M1180 864h2v1h-2z M1193 864h1v1h-1z M1253 864h1v1h-1z M343 865h2v1h-2z M1179 865h1v1h-1z M1194 865h1v1h-1z M1252 865h1v1h-1z M1159 866h5v1h-5z M1177 866h2v1h-2z M1195 866h1v1h-1z M1250 866h2v1h-2z M1156 867h3v1h-3z M1164 867h13v1h-13z M1196 867h2v1h-2z M1240 867h4v1h-4z M1249 867h1v1h-1z M1144 868h4v1h-4z M1154 868h2v1h-2z M1198 868h1v1h-1z M1244 868h5v1h-5z M1148 869h6v1h-6z M1199 869h1v1h-1z M1204 869h5v1h-5z M1200 870h4v1h-4z M1209 870h1v1h-1z M1238 870h1v1h-1z M1210 871h1v1h-1z M1237 871h1v1h-1z M1211 872h1v1h-1z M1212 873h2v1h-2z M1214 874h1v1h-1z M1235 874h1v1h-1z M1215 875h1v1h-1z M1234 875h1v1h-1z M1216 876h2v1h-2z M1218 877h4v1h-4z M1222 878h11v1h-11z"/>
</g>
<g font-size="9.8" fill="#000">
<text x="1685.3" y="762" textLength="15.9" lengthAdjust="spacingAndGlyphs">100</text>
<text x="1684.6" y="791" textLength="10.8" lengthAdjust="spacingAndGlyphs">80</text>
<text x="1684.9" y="842" textLength="10.4" lengthAdjust="spacingAndGlyphs">50</text>
<text x="1684.7" y="903" textLength="10.6" lengthAdjust="spacingAndGlyphs">15</text>
<text x="1686" y="922" textLength="5.4" lengthAdjust="spacingAndGlyphs">0</text>
</g>
<g shape-rendering="crispEdges" fill="#000">
<rect x="56" y="926" width="1" height="3"/>
<rect x="120" y="926" width="1" height="3"/>
<rect x="184" y="926" width="1" height="3"/>
<rect x="248" y="926" width="1" height="3"/>
<rect x="312" y="926" width="1" height="3"/>
<rect x="376" y="926" width="1" height="3"/>
<rect x="440" y="926" width="1" height="3"/>
<rect x="504" y="926" width="1" height="3"/>
<rect x="568" y="926" width="1" height="3"/>
<rect x="632" y="926" width="1" height="3"/>
<rect x="696" y="926" width="1" height="3"/>
<rect x="760" y="926" width="1" height="3"/>
<rect x="824" y="926" width="1" height="3"/>
<rect x="888" y="926" width="1" height="3"/>
<rect x="952" y="926" width="1" height="3"/>
<rect x="1016" y="926" width="1" height="3"/>
<rect x="1080" y="926" width="1" height="3"/>
<rect x="1144" y="926" width="1" height="3"/>
<rect x="1208" y="926" width="1" height="3"/>
<rect x="1272" y="926" width="1" height="3"/>
<rect x="1336" y="926" width="1" height="3"/>
<rect x="1400" y="926" width="1" height="3"/>
</g>
<g font-size="9.8" fill="#000">
<text x="-9" y="938" textLength="50.7" lengthAdjust="spacingAndGlyphs">25 Mar 2020</text>
<text x="55" y="938" textLength="46" lengthAdjust="spacingAndGlyphs">3 Apr 2020</text>
<text x="119" y="938" textLength="50.7" lengthAdjust="spacingAndGlyphs">14 Apr 2020</text>
<text x="183" y="938" textLength="50.7" lengthAdjust="spacingAndGlyphs">23 Apr 2020</text>
<text x="247" y="938" textLength="46" lengthAdjust="spacingAndGlyphs">3 May 2020</text>
<text x="311" y="938" textLength="50.7" lengthAdjust="spacingAndGlyphs">12 May 2020</text>
<text x="375" y="938" textLength="50.7" lengthAdjust="spacingAndGlyphs">21 May 2020</text>
<text x="439" y="938" textLength="50.7" lengthAdjust="spacingAndGlyphs">31 May 2020</text>
<text x="503" y="938" textLength="46" lengthAdjust="spacingAndGlyphs">9 Jun 2020</text>
<text x="567" y="938" textLength="50.7" lengthAdjust="spacingAndGlyphs">18 Jun 2020</text>
<text x="631" y="938" textLength="50.7" lengthAdjust="spacingAndGlyphs">28 Jun 2020</text>
<text x="695" y="938" textLength="46" lengthAdjust="spacingAndGlyphs">7 Jul 2020</text>
<text x="759" y="938" textLength="50.7" lengthAdjust="spacingAndGlyphs">16 Jul 2020</text>
<text x="823" y="938" textLength="50.7" lengthAdjust="spacingAndGlyphs">26 Jul 2020</text>
<text x="887" y="938" textLength="46" lengthAdjust="spacingAndGlyphs">4 Aug 2020</text>
<text x="951" y="938" textLength="50.7" lengthAdjust="spacingAndGlyphs">13 Aug 2020</text>
<text x="1015" y="938" textLength="50.7" lengthAdjust="spacingAndGlyphs">23 Aug 2020</text>
<text x="1079" y="938" textLength="46" lengthAdjust="spacingAndGlyphs">1 Sep 2020</text>
<text x="1143" y="938" textLength="50.7" lengthAdjust="spacingAndGlyphs">10 Sep 2020</text>
<text x="1207" y="938" textLength="50.7" lengthAdjust="spacingAndGlyphs">20 Sep 2020</text>
<text x="1271" y="938" textLength="50.7" lengthAdjust="spacingAndGlyphs">29 Sep 2020</text>
<text x="1335" y="938" textLength="46" lengthAdjust="spacingAndGlyphs">8 Oct 2020</text>
<text x="1399" y="938" textLength="50.7" lengthAdjust="spacingAndGlyphs">18 Oct 2020</text>
</g>
<g font-size="9.8" fill="#000">
<text x="7.3" y="36.2" textLength="209.5" lengthAdjust="spacingAndGlyphs" xml:space="preserve">GBPJPY-,Daily  137.417 137.575 136.953 137.190</text>
<text x="-2.5" y="592" textLength="126.5" lengthAdjust="spacingAndGlyphs">MACD(12,26,9) 0.0885 0.0320</text>
<text x="-3" y="763.8" textLength="67" lengthAdjust="spacingAndGlyphs">RSI(14) 54.4619</text>
</g>
<polygon points="0,36 2.2,36 0,32.5" fill="#000"/>
</svg>
<div id="tb"></div><div id="tb1"></div><div id="tb2"></div><div id="rb"></div>
<svg width="1729" height="20" viewBox="0 0 1729 20" style="position:absolute;left:0;top:0;text-rendering:geometricPrecision" font-family='"Liberation Sans", sans-serif'>
<defs>
<linearGradient id="gold" x1="0" y1="0" x2="1" y2="1"><stop offset="0" stop-color="#f6d36a"/><stop offset="1" stop-color="#b8860b"/></linearGradient>
<linearGradient id="blu" x1="0" y1="0" x2="0" y2="1"><stop offset="0" stop-color="#6aa6e8"/><stop offset="1" stop-color="#1e5fb4"/></linearGradient>
<linearGradient id="grn" x1="0" y1="0" x2="0" y2="1"><stop offset="0" stop-color="#5fe05f"/><stop offset="1" stop-color="#0a9a0a"/></linearGradient>
</defs>
<rect x="-2" y="-3" width="8" height="17" rx="1" fill="#fff" stroke="#2a6cc0" stroke-width="1.6"/>
<rect x="-1" y="3" width="5" height="1" fill="#7aa8e0"/><rect x="-1" y="6" width="5" height="1" fill="#7aa8e0"/><rect x="-1" y="9" width="5" height="1" fill="#7aa8e0"/>
<rect x="19.5" y="-2" width="11" height="13" fill="#fff" stroke="#909090" stroke-width="1"/>
<path d="M22 1v6M26 0v7M29 2v4" stroke="#606060" stroke-width="1"/>
<line x1="29.5" y1="11" x2="34.5" y2="16" stroke="#c89a20" stroke-width="2.4" stroke-linecap="round"/>
<circle cx="26.5" cy="7.5" r="4.3" fill="#e4f0ff" fill-opacity="0.85" stroke="#8ab0e0" stroke-width="1.3"/>
<rect x="43" y="0" width="1" height="18" fill="#a8a8a8" shape-rendering="crispEdges"/>
<path d="M53.5 0.5h6l4 4v8h-10z" fill="#fff" stroke="#808080" stroke-width="1"/>
<rect x="55.5" y="4.5" width="5" height="1" fill="#a0a0a0"/>
<rect x="55.5" y="7.0" width="5" height="1" fill="#a0a0a0"/>
<rect x="55.5" y="9.5" width="5" height="1" fill="#a0a0a0"/>
<path d="M61.2 6.5h3.7v3.7h3.7v3.7h-3.7v3.7h-3.7v-3.7h-3.7v-3.7h3.7z" fill="#22cc22" stroke="#0a7a0a" stroke-width="0.8"/>
<text x="71.6" y="11.2" font-size="12" fill="#000" textLength="35.8" lengthAdjust="spacing" style='font-family:"Liberation Sans", "Noto Sans CJK SC", sans-serif'>新订单</text>
<path d="M120.5 9.5L127 2L135.5 8.5L129 16z" fill="url(#gold)" stroke="#9a6a08" stroke-width="0.8"/>
<path d="M120.5 9.5L121.5 12L129.5 17.5L129 16z" fill="#fff3c0" stroke="#9a6a08" stroke-width="0.6"/>
<rect x="150.3" y="-1" width="10.6" height="9.5" fill="url(#blu)" stroke="#2a5ca8" stroke-width="0.8"/>
<rect x="152.3" y="1.5" width="6.6" height="1.3" fill="#fff"/><rect x="152.3" y="4.3" width="6.6" height="1.3" fill="#fff"/>
<path d="M150.5 15.5a3.2 3.2 0 0 1 -0.3-6.3a4.2 4.2 0 0 1 7.8-1a3.7 3.7 0 0 1 3.2 7.3z" fill="#eef3fa" stroke="#8a9ab8" stroke-width="1"/>
<circle cx="183.5" cy="8" r="7.2" fill="none" stroke="#88aadd" stroke-width="1.5"/>
<circle cx="183.5" cy="8" r="4.3" fill="none" stroke="#5a88d0" stroke-width="1.5"/>
<circle cx="183.5" cy="8" r="1.8" fill="#2a5cc0"/>
<path d="M183.5 8 L184 16 A8 8 0 0 0 191.5 8 z" fill="#3ab03a" fill-opacity="0.85"/>
<path d="M204 6.5a7 3 0 0 1 14 0l-2 1a7 8 0 0 1 -10 0z" fill="#5a9ae0" stroke="#2a5ca8" stroke-width="0.7"/>
<ellipse cx="211" cy="3" rx="4.2" ry="3.2" fill="#6aa6e8" stroke="#2a5ca8" stroke-width="0.7"/>
<path d="M205 8.5a6.5 7 0 0 0 12 0z" fill="#f2c64a" stroke="#b08818" stroke-width="0.7"/>
<circle cx="215.5" cy="12" r="4" fill="#e02020" stroke="#901010" stroke-width="0.6"/><rect x="213.8" y="10.3" width="3.4" height="3.4" fill="#fff"/>
<text x="224.6" y="11.2" font-size="12" fill="#000" textLength="46.6" lengthAdjust="spacing" style='font-family:"Liberation Sans", "Noto Sans CJK SC", sans-serif'>自动交易</text>
<rect x="279" y="0" width="1" height="18" fill="#a8a8a8" shape-rendering="crispEdges"/>
<g shape-rendering="crispEdges"><rect x="282" y="1" width="3" height="1" fill="#b0b0b0"/><rect x="282" y="3" width="3" height="1" fill="#b0b0b0"/><rect x="282" y="5" width="3" height="1" fill="#b0b0b0"/><rect x="282" y="7" width="3" height="1" fill="#b0b0b0"/><rect x="282" y="9" width="3" height="1" fill="#b0b0b0"/><rect x="282" y="11" width="3" height="1" fill="#b0b0b0"/><rect x="282" y="13" width="3" height="1" fill="#b0b0b0"/><rect x="282" y="15" width="3" height="1" fill="#b0b0b0"/><rect x="282" y="17" width="3" height="1" fill="#b0b0b0"/></g>
<path d="M298.5 1.5V16M295.0 13H308.5" stroke="#404040" stroke-width="1.2" fill="none"/>
<path d="M296.7 3.7L298.5 1.5L300.3 3.7M306.3 11.2L308.5 13L306.3 14.8" stroke="#404040" stroke-width="1" fill="none"/>
<path d="M303.5 3V12M303.5 4H306M301 11H303.5" stroke="#109010" stroke-width="1.6" fill="none"/>
<rect x="317" y="0" width="1" height="18" fill="#a8a8a8" shape-rendering="crispEdges"/>
<rect x="318" y="0" width="25" height="18" fill="#f8f8f8" shape-rendering="crispEdges"/>
<path d="M326 1.5V16M322.5 13H336" stroke="#404040" stroke-width="1.2" fill="none"/>
<path d="M324.2 3.7L326 1.5L327.8 3.7M333.8 11.2L336 13L333.8 14.8" stroke="#404040" stroke-width="1" fill="none"/>
<path d="M331.5 0V13" stroke="#0a700a" stroke-width="1"/><rect x="329.5" y="1.5" width="4" height="8" fill="#22c022" stroke="#0a700a" stroke-width="0.8"/>
<path d="M354.5 1.5V16M351.0 13H364.5" stroke="#404040" stroke-width="1.2" fill="none"/>
<path d="M352.7 3.7L354.5 1.5L356.3 3.7M362.3 11.2L364.5 13L362.3 14.8" stroke="#404040" stroke-width="1" fill="none"/>
<path d="M354.5 10C357 4 360 2.5 364 9" stroke="#109010" stroke-width="1.5" fill="none"/>
<rect x="374" y="0" width="1" height="18" fill="#a8a8a8" shape-rendering="crispEdges"/>
<line x1="392.0" y1="9.7" x2="397.5" y2="14.7" stroke="#c89a20" stroke-width="3" stroke-linecap="round"/>
<circle cx="388.5" cy="6.2" r="5.2" fill="#d8ecff" stroke="#4a86d8" stroke-width="1.6"/>
<rect x="385.5" y="5.4" width="6" height="1.6" fill="#2a6ad0"/>
<rect x="387.7" y="3.2" width="1.6" height="6" fill="#2a6ad0"/>
<line x1="420.0" y1="9.7" x2="425.5" y2="14.7" stroke="#c89a20" stroke-width="3" stroke-linecap="round"/>
<circle cx="416.5" cy="6.2" r="5.2" fill="#d8ecff" stroke="#4a86d8" stroke-width="1.6"/>
<rect x="413.5" y="5.4" width="6" height="1.6" fill="#2a6ad0"/>
<g shape-rendering="crispEdges"><rect x="439" y="0" width="8" height="7" fill="#3aa83a"/><rect x="448" y="0" width="8" height="7" fill="#2a6cd0"/><rect x="439" y="8" width="8" height="8" fill="#2a6cd0"/><rect x="448" y="8" width="8" height="8" fill="#3aa83a"/>
<rect x="440" y="3" width="6" height="3" fill="#e8f4e8"/><rect x="449" y="3" width="6" height="3" fill="#e0ecfa"/><rect x="440" y="11" width="6" height="4" fill="#e0ecfa"/><rect x="449" y="11" width="6" height="4" fill="#e8f4e8"/></g>
<rect x="464" y="0" width="1" height="18" fill="#a8a8a8" shape-rendering="crispEdges"/>
<rect x="469" y="0" width="25" height="18" fill="#f8f8f8" shape-rendering="crispEdges"/>
<path d="M477.5 1.5V16M474.0 13H487.5" stroke="#404040" stroke-width="1.2" fill="none"/>
<path d="M475.7 3.7L477.5 1.5L479.3 3.7M485.3 11.2L487.5 13L485.3 14.8" stroke="#404040" stroke-width="1" fill="none"/>
<polygon points="482,4.5 482,10.5 486.5,7.5" fill="none" stroke="#109010" stroke-width="1.3"/>
<rect x="496" y="0" width="1" height="18" fill="#a8a8a8" shape-rendering="crispEdges"/>
<rect x="498" y="0" width="26" height="18" fill="#f8f8f8" shape-rendering="crispEdges"/>
<path d="M505.5 1.5V16M502.0 13H515.5" stroke="#404040" stroke-width="1.2" fill="none"/>
<path d="M503.7 3.7L505.5 1.5L507.3 3.7M513.3 11.2L515.5 13L513.3 14.8" stroke="#404040" stroke-width="1" fill="none"/>
<path d="M511.5 2V12" stroke="#2a5cc0" stroke-width="1.3"/><path d="M517 7.5H512.5M514.5 5.5L512.5 7.5L514.5 9.5" stroke="#d03010" stroke-width="1.2" fill="none"/>
<rect x="526" y="0" width="1" height="18" fill="#a8a8a8" shape-rendering="crispEdges"/>
<path d="M536.5 0.5h6l4 4v8h-10z" fill="#fff" stroke="#808080" stroke-width="1"/>
<rect x="538.5" y="4.5" width="5" height="1" fill="#a0a0a0"/>
<rect x="538.5" y="7.0" width="5" height="1" fill="#a0a0a0"/>
<rect x="538.5" y="9.5" width="5" height="1" fill="#a0a0a0"/>
<path d="M544.2 6.5h3.7v3.7h3.7v3.7h-3.7v3.7h-3.7v-3.7h-3.7v-3.7h3.7z" fill="#22cc22" stroke="#0a7a0a" stroke-width="0.8"/>
<polygon points="557.5,7 563.5,7 560.5,10" fill="#000"/>
<circle cx="582" cy="7.8" r="7.2" fill="#fff" stroke="#2a6cd0" stroke-width="2"/>
<path d="M582 3.5V8H585.5" stroke="#404040" stroke-width="1.1" fill="none"/>
<polygon points="597,7 603,7 600,10" fill="#000"/>
<rect x="613.5" y="1.5" width="15" height="13" fill="#fff" stroke="#4a86d8" stroke-width="1.4"/><rect x="613" y="1" width="16" height="2.5" fill="#4a86d8"/>
<path d="M615.5 7.5L619 6L622 7L626.5 5" stroke="#b03020" stroke-width="1.2" fill="none"/><path d="M615.5 12L619 10.5L622 12L626.5 10.5" stroke="#109010" stroke-width="1.2" fill="none"/>
<polygon points="636,7 642,7 639,10" fill="#000"/>
<rect x="647" y="0" width="1" height="18" fill="#a8a8a8" shape-rendering="crispEdges"/>
<g shape-rendering="crispEdges"><rect x="650" y="1" width="3" height="1" fill="#b0b0b0"/><rect x="650" y="3" width="3" height="1" fill="#b0b0b0"/><rect x="650" y="5" width="3" height="1" fill="#b0b0b0"/><rect x="650" y="7" width="3" height="1" fill="#b0b0b0"/><rect x="650" y="9" width="3" height="1" fill="#b0b0b0"/><rect x="650" y="11" width="3" height="1" fill="#b0b0b0"/><rect x="650" y="13" width="3" height="1" fill="#b0b0b0"/><rect x="650" y="15" width="3" height="1" fill="#b0b0b0"/><rect x="650" y="17" width="3" height="1" fill="#b0b0b0"/></g>
<rect x="656" y="0" width="1" height="18" fill="#a8a8a8" shape-rendering="crispEdges"/>
<rect x="658" y="0" width="25" height="18" fill="#f8f8f8" shape-rendering="crispEdges"/>
<path d="M665 1.5V13L667.8 10.6L669.8 15L671.8 14L669.8 9.8L673.5 9.6z" fill="#404040"/>
<path d="M697.5 1V15M690 8H705" stroke="#505050" stroke-width="1"/><rect x="696.5" y="7" width="2" height="2" fill="#f0f0f0"/>
<rect x="714" y="0" width="1" height="18" fill="#a8a8a8" shape-rendering="crispEdges"/>
<path d="M731.5 2V15" stroke="#505050" stroke-width="1"/>
<path d="M754 8H766" stroke="#505050" stroke-width="1.2"/>
<path d="M781.5 15L794 3" stroke="#505050" stroke-width="1.2"/>
<path d="M808 12L820 2M810 15L822 5M811 8.5L812.5 14M815 5L816.5 10.5M819 2L820.5 7.5" stroke="#505050" stroke-width="1" fill="none"/>
<text x="819" y="17" font-size="6.5" font-weight="bold" fill="#404040">E</text>
<g stroke="#505050" stroke-width="1" stroke-dasharray="1 1"><path d="M837 1.5H850M837 5.5H850M837 9.5H850M837 13.5H846"/></g>
<text x="846.5" y="17.5" font-size="6.5" font-weight="bold" fill="#404040">F</text>
<text x="867" y="13" font-size="12.5" fill="#606060" textLength="9" lengthAdjust="spacingAndGlyphs">A</text>
<rect x="893.5" y="2.5" width="12" height="12" fill="none" stroke="#606060" stroke-width="1" stroke-dasharray="1 1"/>
<text x="895.3" y="13" font-size="11.5" fill="#606060" textLength="8.5" lengthAdjust="spacingAndGlyphs">T</text>
<path d="M921.5 5L924.5 2L927.5 5L924.5 8z M928 11L931 8L934 11L931 14z" fill="#404040"/><path d="M923 8.5L926 11.5L928.5 8" stroke="#404040" stroke-width="1.2" fill="none"/>
<polygon points="941.5,7 947.5,7 944.5,10" fill="#000"/>
<rect x="953" y="0" width="1" height="18" fill="#a8a8a8" shape-rendering="crispEdges"/>
<g shape-rendering="crispEdges"><rect x="956" y="1" width="3" height="1" fill="#b0b0b0"/><rect x="956" y="3" width="3" height="1" fill="#b0b0b0"/><rect x="956" y="5" width="3" height="1" fill="#b0b0b0"/><rect x="956" y="7" width="3" height="1" fill="#b0b0b0"/><rect x="956" y="9" width="3" height="1" fill="#b0b0b0"/><rect x="956" y="11" width="3" height="1" fill="#b0b0b0"/><rect x="956" y="13" width="3" height="1" fill="#b0b0b0"/><rect x="956" y="15" width="3" height="1" fill="#b0b0b0"/><rect x="956" y="17" width="3" height="1" fill="#b0b0b0"/></g>
<rect x="1132" y="0" width="25" height="18" fill="#f8f8f8" shape-rendering="crispEdges"/>
<rect x="1131" y="0" width="1" height="18" fill="#a8a8a8" shape-rendering="crispEdges"/>
<text x="968.6" y="12.4" font-size="10.5" fill="#505050" textLength="12.4" lengthAdjust="spacingAndGlyphs">M1</text>
<text x="996.8" y="12.4" font-size="10.5" fill="#505050" textLength="12.4" lengthAdjust="spacingAndGlyphs">M5</text>
<text x="1021.6" y="12.4" font-size="10.5" fill="#505050" textLength="18.7" lengthAdjust="spacingAndGlyphs">M15</text>
<text x="1050.2" y="12.4" font-size="10.5" fill="#505050" textLength="18.3" lengthAdjust="spacingAndGlyphs">M30</text>
<text x="1081.4" y="12.4" font-size="10.5" fill="#505050" textLength="11.6" lengthAdjust="spacingAndGlyphs">H1</text>
<text x="1108.4" y="12.4" font-size="10.5" fill="#505050" textLength="12.4" lengthAdjust="spacingAndGlyphs">H4</text>
<text x="1137.8" y="12.4" font-size="10.5" fill="#505050" textLength="11.7" lengthAdjust="spacingAndGlyphs">D1</text>
<text x="1164.8" y="12.4" font-size="10.5" fill="#505050" textLength="14.2" lengthAdjust="spacingAndGlyphs">W1</text>
<text x="1191.5" y="12.4" font-size="10.5" fill="#505050" textLength="14.4" lengthAdjust="spacingAndGlyphs">MN</text>
<rect x="1214" y="0" width="1" height="18" fill="#a8a8a8" shape-rendering="crispEdges"/>
<line x1="1677.5" y1="12.5" x2="1681.5" y2="8.5" stroke="#2a5cc8" stroke-width="2.4" stroke-linecap="round"/>
<circle cx="1684" cy="5.5" r="3.8" fill="#eef4ff" stroke="#2a5cc8" stroke-width="1.6"/>
<path d="M1713 0.5h8a3 3 0 0 1 3 3v2a3 3 0 0 1-3 3h-1l1 3l-4-3h-4a3 3 0 0 1-3-3v-2a3 3 0 0 1 3-3z" fill="#f4f4f8" stroke="#909090" stroke-width="1"/>
<path d="M1706 5.5h6a2.5 2.5 0 0 1 2.5 2.5v1.5a2.5 2.5 0 0 1-2.5 2.5h-4l-3 2.5l0.8-2.6a2.5 2.5 0 0 1-2.3-2.4v-1.5a2.5 2.5 0 0 1 2.5-2.5z" fill="#e4e4f0" stroke="#707070" stroke-width="1"/>
</svg>
<div id="panel" style="position:absolute;left:0;top:44px;width:214px;height:64px;">
<svg width="214" height="64" viewBox="0 44 214 64" style="position:absolute;left:0;top:0;text-rendering:geometricPrecision" font-family='"Liberation Sans", sans-serif'>
<defs>
<linearGradient id="gt" x1="0" y1="0" x2="0" y2="1"><stop offset="0" stop-color="#5454fa"/><stop offset="1" stop-color="#3a3ade"/></linearGradient>
<linearGradient id="gb" x1="0" y1="0" x2="0" y2="1"><stop offset="0" stop-color="#3838de"/><stop offset="0.5" stop-color="#1c1cc8"/><stop offset="1" stop-color="#0000aa"/></linearGradient>
<linearGradient id="gs" x1="0" y1="0" x2="0" y2="1"><stop offset="0" stop-color="#f4f4f4"/><stop offset="0.45" stop-color="#e6e6e6"/><stop offset="0.5" stop-color="#d6d6d6"/><stop offset="1" stop-color="#cfcfcf"/></linearGradient>
</defs>
<g shape-rendering="crispEdges">
<rect x="0" y="44" width="47" height="24" fill="#2020b8"/>
<rect x="0" y="45" width="46" height="23" fill="url(#gt)"/>
<rect x="162" y="44" width="52" height="24" fill="#2020b8"/>
<rect x="163" y="45" width="50" height="23" fill="url(#gt)"/>
<rect x="0" y="68" width="104" height="40" fill="url(#gb)"/>
<rect x="106" y="68" width="108" height="40" fill="url(#gb)"/>
<rect x="103" y="68" width="1" height="40" fill="#0a0a9a"/>
<rect x="213" y="68" width="1" height="40" fill="#0a0a9a"/>
<rect x="0" y="67" width="43" height="1" fill="#1a1aa8"/>
<rect x="0" y="68" width="43" height="1" fill="#5a5aee"/>
<rect x="166" y="67" width="44" height="1" fill="#1a1aa8"/>
<rect x="166" y="68" width="44" height="1" fill="#5a5aee"/>
<rect x="49" y="44" width="111" height="22" fill="#fff" stroke="none"/>
<rect x="49.5" y="44.5" width="110" height="21" fill="#fff" stroke="#a8a8a8"/>
<rect x="51" y="46" width="19" height="19" fill="url(#gs)"/>
<rect x="139" y="46" width="20" height="19" fill="url(#gs)"/>
<rect x="70" y="45" width="1" height="21" fill="#b0b0b0"/>
<rect x="138" y="45" width="1" height="21" fill="#b0b0b0"/>
</g>
<polygon points="57,53 62.4,53 59.7,56" fill="#5468b8"/>
<polygon points="146,56.2 151.4,56.2 148.7,53.2" fill="#5468b8"/>
<text x="7.2" y="60" font-size="12" fill="#fff" textLength="26" lengthAdjust="spacingAndGlyphs">SELL</text>
<text x="175.2" y="60" font-size="12" fill="#fff" textLength="23.5" lengthAdjust="spacingAndGlyphs">BUY</text>
<text x="111.2" y="60.2" font-size="12.3" fill="#000" textLength="23.8" lengthAdjust="spacingAndGlyphs">1.00</text>
<text x="18.3" y="99.1" font-size="12.2" font-weight="bold" fill="#fff" textLength="20.2" lengthAdjust="spacingAndGlyphs">137</text>
<text x="41.6" y="99.1" font-size="32.4" fill="#fff" textLength="36" lengthAdjust="spacingAndGlyphs">19</text>
<text x="81.6" y="83.1" font-size="11.7" font-weight="bold" fill="#fff" textLength="7.6" lengthAdjust="spacingAndGlyphs">0</text>
<text x="128.1" y="99.1" font-size="12.2" font-weight="bold" fill="#fff" textLength="20.2" lengthAdjust="spacingAndGlyphs">137</text>
<text x="152.9" y="99.1" font-size="32.4" fill="#fff" textLength="36" lengthAdjust="spacingAndGlyphs">24</text>
<text x="193.1" y="83.1" font-size="11.7" font-weight="bold" fill="#fff" textLength="7" lengthAdjust="spacingAndGlyphs">3</text>
</svg>
</div>

</body></html>
